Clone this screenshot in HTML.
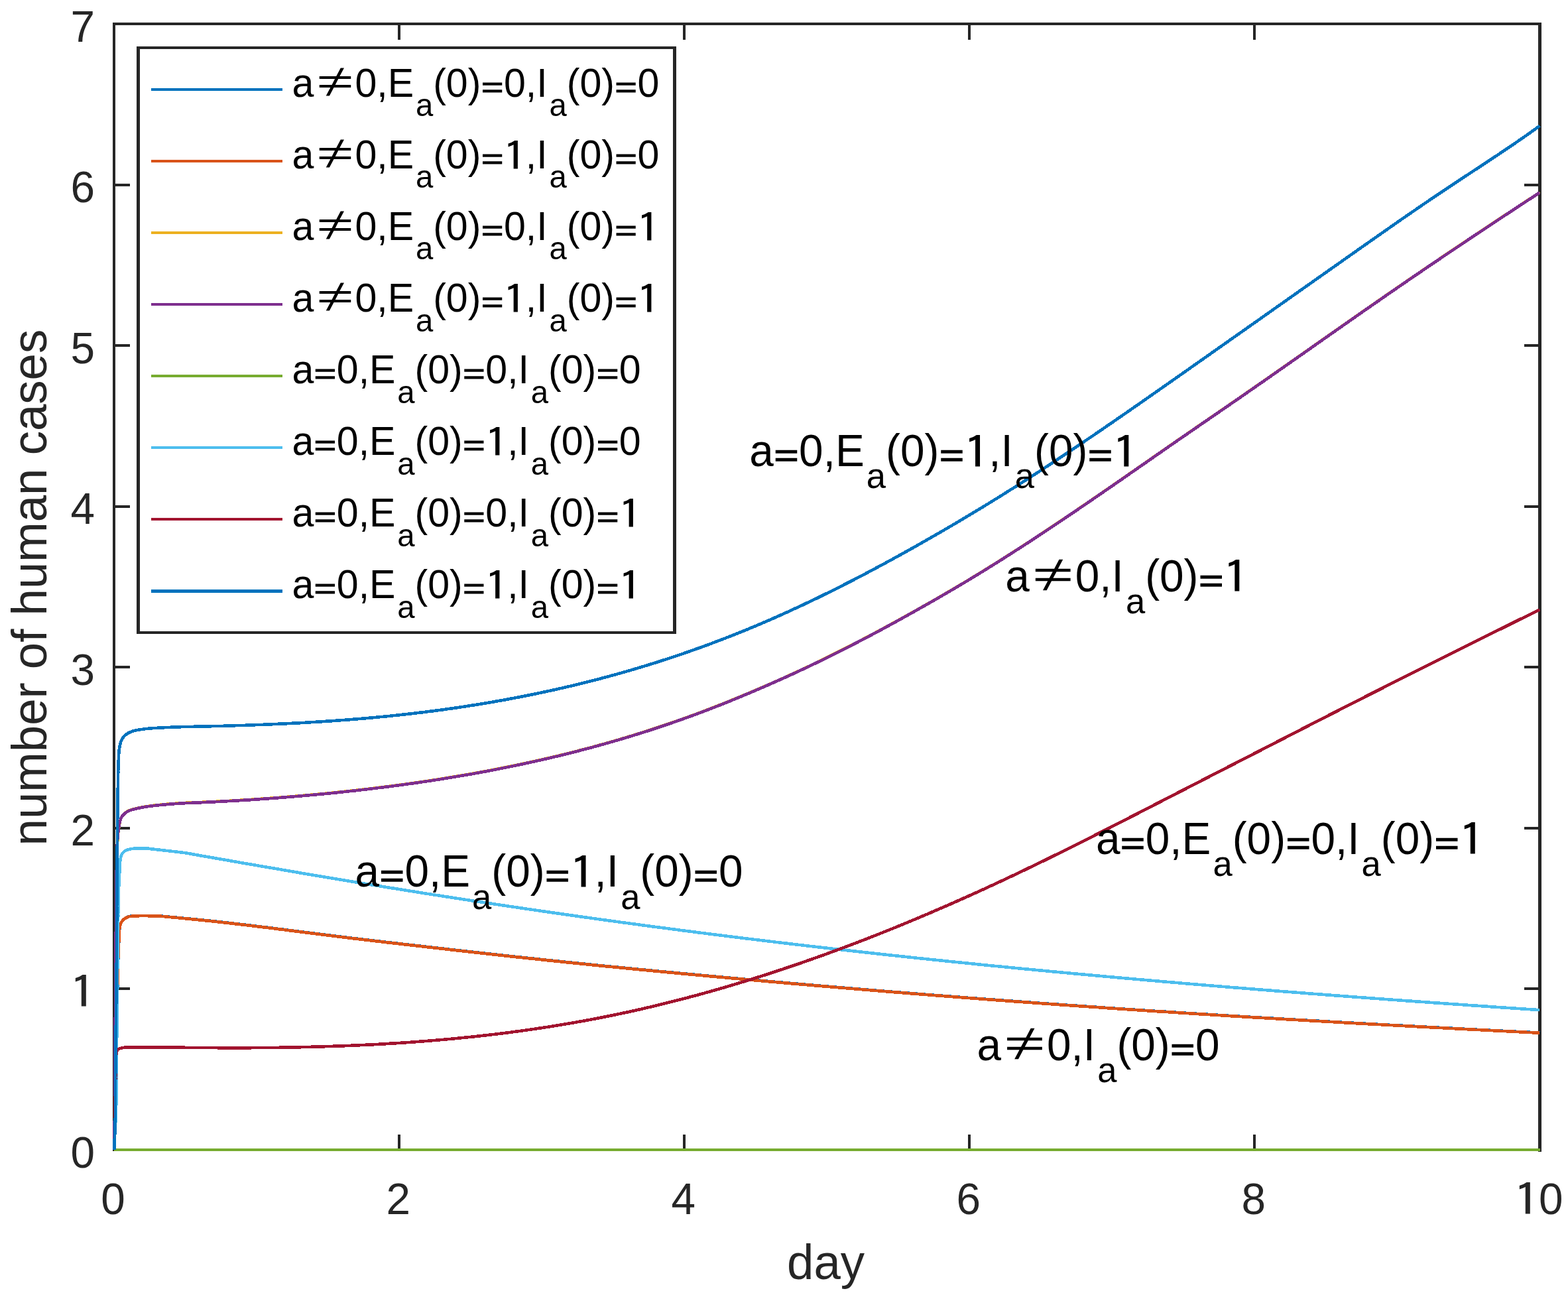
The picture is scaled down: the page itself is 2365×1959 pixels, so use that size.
<!DOCTYPE html>
<html lang="en"><head><meta charset="utf-8"><title>number of human cases vs day</title>
<style>html,body{margin:0;padding:0;background:#fff}svg{display:block}text{font-family:"Liberation Sans",Arial,Helvetica,sans-serif}.n,.d{font-family:"IPAGothic","Noto Sans CJK JP","Liberation Sans",sans-serif}</style></head><body>
<svg xmlns="http://www.w3.org/2000/svg" width="2365" height="1959" viewBox="0 0 2365 1959">
<rect width="2365" height="1959" fill="#fff"/>
<g fill="none" stroke="#262626" stroke-width="4" shape-rendering="crispEdges">
<path d="M172.2,1734.0H2322.5M172.2,36.0H2322.5" stroke-linecap="square"/>
<path d="M172.2,1734.0V36.0" stroke-linecap="square"/>
<path d="M2322.5,1734.0V36.0" stroke-width="5" stroke-linecap="square"/>
<path d="M602.26,1734.0v-23.5M602.26,36.0v23.5M1032.32,1734.0v-23.5M1032.32,36.0v23.5M1462.38,1734.0v-23.5M1462.38,36.0v23.5M1892.44,1734.0v-23.5M1892.44,36.0v23.5M172.2,1491.43h23.5M2322.5,1491.43h-23.5M172.2,1248.86h23.5M2322.5,1248.86h-23.5M172.2,1006.29h23.5M2322.5,1006.29h-23.5M172.2,763.71h23.5M2322.5,763.71h-23.5M172.2,521.14h23.5M2322.5,521.14h-23.5M172.2,278.57h23.5M2322.5,278.57h-23.5" stroke-width="4"/>
</g>
<text transform="translate(170.60,1830.60) scale(1,1.025)" font-size="65.7" fill="#262626"><tspan x="-18.27" y="0.00" font-size="65.70">0</tspan></text>
<text transform="translate(600.66,1830.60) scale(1,1.025)" font-size="65.7" fill="#262626"><tspan x="-18.27" y="0.00" font-size="65.70">2</tspan></text>
<text transform="translate(1030.72,1830.60) scale(1,1.025)" font-size="65.7" fill="#262626"><tspan x="-18.27" y="0.00" font-size="65.70">4</tspan></text>
<text transform="translate(1460.78,1830.60) scale(1,1.025)" font-size="65.7" fill="#262626"><tspan x="-18.27" y="0.00" font-size="65.70">6</tspan></text>
<text transform="translate(1890.84,1830.60) scale(1,1.025)" font-size="65.7" fill="#262626"><tspan x="-18.27" y="0.00" font-size="65.70">8</tspan></text>
<text transform="translate(2320.90,1830.60) scale(1,1.025)" font-size="65.7" fill="#262626"><tspan class="d" x="-39.12" y="3.34" font-size="65.56" textLength="42.69" lengthAdjust="spacingAndGlyphs">1</tspan><tspan x="0.00" y="0.00" font-size="65.70">0</tspan></text>
<text transform="translate(142.90,1760.60) scale(1,1.025)" font-size="65.7" fill="#262626"><tspan x="-36.54" y="0.00" font-size="65.70">0</tspan></text>
<text transform="translate(142.90,1518.03) scale(1,1.025)" font-size="65.7" fill="#262626"><tspan class="d" x="-39.12" y="3.34" font-size="65.56" textLength="42.69" lengthAdjust="spacingAndGlyphs">1</tspan></text>
<text transform="translate(142.90,1275.46) scale(1,1.025)" font-size="65.7" fill="#262626"><tspan x="-36.54" y="0.00" font-size="65.70">2</tspan></text>
<text transform="translate(142.90,1032.89) scale(1,1.025)" font-size="65.7" fill="#262626"><tspan x="-36.54" y="0.00" font-size="65.70">3</tspan></text>
<text transform="translate(142.90,790.31) scale(1,1.025)" font-size="65.7" fill="#262626"><tspan x="-36.54" y="0.00" font-size="65.70">4</tspan></text>
<text transform="translate(142.90,547.74) scale(1,1.025)" font-size="65.7" fill="#262626"><tspan x="-36.54" y="0.00" font-size="65.70">5</tspan></text>
<text transform="translate(142.90,305.17) scale(1,1.025)" font-size="65.7" fill="#262626"><tspan x="-36.54" y="0.00" font-size="65.70">6</tspan></text>
<text transform="translate(142.90,62.60) scale(1,1.025)" font-size="65.7" fill="#262626"><tspan x="-36.54" y="0.00" font-size="65.70">7</tspan></text>
<text transform="translate(1245.55,1929.40) scale(1,1.02)" font-size="72.6" fill="#262626"><tspan x="-58.53" y="0.00" font-size="72.60">day</tspan></text>
<text transform="translate(70.30,886.00) rotate(-90) scale(1,1.02)" font-size="72.6" fill="#262626"><tspan x="-389.43" y="0.00" font-size="72.60">number of human cases</tspan></text>
<g fill="none" stroke-width="4.6" stroke-linejoin="round" shape-rendering="crispEdges">
<path d="M172.5,1733.8L172.5,1732.3L172.6,1730.8L172.6,1729.3L172.6,1727.8L172.7,1726.3L172.7,1724.8L172.7,1723.3L172.8,1721.8L172.8,1720.3L172.8,1718.8L172.8,1717.3L172.9,1715.8L172.9,1714.3L172.9,1712.8L173.0,1711.3L173.0,1709.8L173.0,1708.3L173.1,1706.8L173.1,1705.3L173.1,1703.8L173.2,1702.3L173.2,1700.8L173.2,1699.3L173.2,1697.8L173.3,1696.3L173.3,1694.8L173.3,1693.3L173.4,1691.8L173.4,1690.3L173.4,1688.8L173.5,1687.3L173.5,1685.8L173.5,1684.3L173.5,1682.8L173.6,1681.3L173.6,1679.8L173.6,1678.3L173.7,1676.8L173.7,1675.3L173.7,1673.8L173.7,1672.3L173.8,1670.8L173.8,1669.3L173.8,1667.8L173.9,1666.3L173.9,1664.8L173.9,1663.3L173.9,1661.8L174.0,1660.3L174.0,1658.8L174.0,1657.3L174.1,1655.8L174.1,1654.3L174.1,1652.8L174.1,1651.3L174.2,1649.8L174.2,1648.3L174.2,1646.8L174.3,1645.3L174.3,1643.8L174.3,1642.3L174.3,1640.8L174.4,1639.3L174.4,1637.8L174.4,1636.3L174.5,1634.8L174.5,1633.3L174.5,1631.8L174.5,1630.3L174.6,1628.8L174.6,1627.3L174.6,1625.8L174.6,1624.3L174.7,1622.8L174.7,1621.3L174.7,1619.8L174.8,1618.3L174.8,1616.8L174.8,1615.3L174.8,1613.8L174.9,1612.3L174.9,1610.8L174.9,1609.3L175.0,1607.8L175.0,1606.3L175.0,1604.8L175.0,1603.3L175.1,1601.8L175.1,1600.3L175.1,1598.8L175.1,1597.3L175.2,1595.8L175.2,1594.3L175.2,1592.8L175.3,1591.3L175.3,1589.8L175.3,1588.3L175.3,1586.8L175.4,1585.3L175.4,1583.8L175.4,1582.3L175.5,1580.8L175.5,1579.3L175.5,1577.8L175.5,1576.3L175.6,1574.8L175.6,1573.3L175.6,1571.8L175.6,1570.3L175.7,1568.8L175.7,1567.3L175.7,1565.8L175.8,1564.3L175.8,1562.8L175.8,1561.3L175.8,1559.8L175.9,1558.3L175.9,1556.8L175.9,1555.3L175.9,1553.8L176.0,1552.3L176.0,1550.8L176.0,1549.3L176.1,1547.8L176.1,1546.3L176.1,1544.8L176.1,1543.3L176.2,1541.8L176.2,1540.3L176.2,1538.8L176.3,1537.3L176.3,1535.8L176.3,1534.3L176.3,1532.8L176.4,1531.3L176.4,1529.8L176.4,1528.3L176.5,1526.8L176.5,1525.3L176.5,1523.8L176.5,1522.3L176.6,1520.8L176.6,1519.3L176.6,1517.8L176.7,1516.3L176.7,1514.8L176.7,1513.3L176.8,1511.8L176.8,1510.3L176.8,1508.8L176.8,1507.3L176.9,1505.8L176.9,1504.3L176.9,1502.8L177.0,1501.3L177.0,1499.8L177.0,1498.3L177.0,1496.8L177.1,1495.3L177.1,1493.8L177.1,1492.3L177.2,1490.8L177.2,1489.3L177.2,1487.8L177.2,1486.3L177.3,1484.8L177.3,1483.3L177.3,1481.8L177.4,1480.3L177.4,1478.8L177.4,1477.3L177.5,1475.8L177.5,1474.3L177.5,1472.8L177.6,1471.3L177.6,1469.8L177.6,1468.3L177.7,1466.8L177.7,1465.3L177.7,1463.8L177.8,1462.3L177.8,1460.9L177.8,1459.4L177.9,1457.9L177.9,1456.4L178.0,1454.9L178.0,1453.4L178.0,1451.9L178.1,1450.4L178.1,1448.9L178.2,1447.4L178.2,1445.9L178.3,1444.4L178.3,1442.9L178.4,1441.4L178.4,1439.9L178.5,1438.4L178.5,1436.9L178.6,1435.4L178.7,1433.9L178.7,1432.4L178.8,1430.9L178.9,1429.4L178.9,1427.9L179.0,1426.4L179.1,1424.9L179.1,1423.4L179.2,1421.9L179.3,1420.4L179.3,1418.9L179.4,1417.4L179.5,1415.9L179.5,1414.4L179.6,1412.9L179.7,1411.4L179.7,1409.9L179.8,1408.4L179.9,1406.9L179.9,1405.4L180.0,1403.9L180.1,1402.4L180.3,1400.9L180.5,1399.4L180.7,1397.9L181.0,1396.4L181.3,1395.0L181.8,1393.6L182.4,1392.2L183.1,1390.8L183.9,1389.6L184.7,1388.4L185.8,1387.2L186.9,1386.1L188.1,1385.2L189.3,1384.5L190.6,1383.7L192.0,1383.1L193.4,1382.5L194.9,1382.0L196.4,1381.7L197.8,1381.6L199.3,1381.4L200.8,1381.3L202.2,1381.3L203.7,1381.2L205.2,1381.1L206.8,1381.1L208.3,1381.0L209.8,1381.0L211.3,1380.9L212.8,1380.9L214.3,1380.9L215.8,1380.9L217.3,1380.9L218.8,1380.9L220.3,1380.9L221.8,1380.9L223.3,1381.0L224.8,1381.0L226.3,1381.0L227.8,1381.0L229.3,1381.0L230.8,1381.1L232.3,1381.1L233.8,1381.1L235.3,1381.2L236.8,1381.2L238.3,1381.3L239.8,1381.3L241.3,1381.4L242.8,1381.5L244.3,1381.7L245.8,1381.8L247.3,1381.9L248.8,1382.1L250.3,1382.2L251.8,1382.4L253.3,1382.5L254.8,1382.7L256.3,1382.8L257.8,1383.0L259.2,1383.1L260.7,1383.2L262.2,1383.4L263.7,1383.5L265.2,1383.7L266.7,1383.8L268.2,1383.9L269.7,1384.1L271.2,1384.2L272.7,1384.4L274.2,1384.5L275.7,1384.7L277.2,1384.8L278.7,1385.0L279.6,1385.0L282.6,1385.3L285.6,1385.6L288.6,1385.9L291.6,1386.2L294.6,1386.5L297.6,1386.8L300.6,1387.1L303.6,1387.4L306.6,1387.7L309.6,1388.0L312.6,1388.3L315.6,1388.6L318.6,1388.9L321.6,1389.3L324.6,1389.6L327.6,1389.9L330.6,1390.2L333.6,1390.6L336.6,1390.9L339.6,1391.2L342.6,1391.6L345.6,1391.9L348.6,1392.3L351.6,1392.6L354.6,1393.0L357.6,1393.3L360.6,1393.7L363.6,1394.0L366.6,1394.4L369.6,1394.7L372.6,1395.1L375.6,1395.4L378.6,1395.8L381.6,1396.2L384.6,1396.5L387.6,1396.9L390.6,1397.3L393.6,1397.6L396.6,1398.0L399.6,1398.4L402.6,1398.7L405.6,1399.1L408.6,1399.5L411.6,1399.8L414.6,1400.2L417.6,1400.6L420.6,1401.0L423.6,1401.3L426.6,1401.7L429.6,1402.1L432.6,1402.5L435.6,1402.9L438.6,1403.2L441.6,1403.6L444.6,1404.0L447.6,1404.4L450.6,1404.8L453.6,1405.1L456.6,1405.5L459.6,1405.9L462.6,1406.3L465.6,1406.7L468.6,1407.0L471.6,1407.4L474.6,1407.8L477.6,1408.2L480.6,1408.6L483.6,1408.9L486.6,1409.3L489.6,1409.7L492.6,1410.1L495.6,1410.4L498.6,1410.8L501.6,1411.2L504.6,1411.6L507.6,1411.9L510.6,1412.3L513.6,1412.7L516.6,1413.0L519.6,1413.4L522.6,1413.8L525.6,1414.1L528.6,1414.5L531.6,1414.9L534.6,1415.2L537.6,1415.6L540.6,1415.9L543.6,1416.3L546.6,1416.7L549.6,1417.0L552.6,1417.4L555.6,1417.7L558.6,1418.1L561.6,1418.4L564.6,1418.8L567.6,1419.1L570.6,1419.5L573.6,1419.8L576.6,1420.2L579.6,1420.5L582.6,1420.9L585.6,1421.2L588.6,1421.5L591.6,1421.9L594.6,1422.2L597.6,1422.6L600.6,1422.9L603.6,1423.3L606.6,1423.6L609.6,1424.0L612.6,1424.3L615.6,1424.7L618.6,1425.0L621.6,1425.3L624.6,1425.7L627.6,1426.0L630.6,1426.4L633.6,1426.7L636.6,1427.1L639.6,1427.4L642.6,1427.8L645.6,1428.1L648.6,1428.4L651.6,1428.8L654.6,1429.1L657.6,1429.5L660.6,1429.8L663.6,1430.2L666.6,1430.5L669.6,1430.8L672.6,1431.2L675.6,1431.5L678.6,1431.9L681.6,1432.2L684.6,1432.5L687.6,1432.9L690.6,1433.2L693.6,1433.6L696.6,1433.9L699.6,1434.2L702.6,1434.6L705.6,1434.9L708.6,1435.2L711.6,1435.6L714.6,1435.9L717.6,1436.3L720.6,1436.6L723.6,1436.9L726.6,1437.3L729.6,1437.6L732.6,1437.9L735.6,1438.3L738.6,1438.6L741.6,1438.9L744.6,1439.3L747.6,1439.6L750.6,1439.9L753.6,1440.2L756.6,1440.6L759.6,1440.9L762.6,1441.2L765.6,1441.6L768.6,1441.9L771.6,1442.2L774.6,1442.5L777.6,1442.9L780.6,1443.2L783.6,1443.5L786.6,1443.8L789.6,1444.1L792.6,1444.5L795.6,1444.8L798.6,1445.1L801.6,1445.4L804.6,1445.7L807.6,1446.1L810.6,1446.4L813.6,1446.7L816.6,1447.0L819.6,1447.3L822.6,1447.6L825.6,1448.0L828.6,1448.3L831.6,1448.6L834.6,1448.9L837.6,1449.2L840.6,1449.5L843.6,1449.8L846.6,1450.2L849.6,1450.5L852.6,1450.8L855.6,1451.1L858.6,1451.4L861.6,1451.7L864.6,1452.0L867.6,1452.3L870.6,1452.6L873.6,1452.9L876.6,1453.2L879.6,1453.5L882.6,1453.8L885.6,1454.1L888.6,1454.4L891.6,1454.8L894.6,1455.1L897.6,1455.4L900.6,1455.7L903.6,1456.0L906.6,1456.3L909.6,1456.6L912.6,1456.9L915.6,1457.2L918.6,1457.5L921.6,1457.8L924.6,1458.0L927.6,1458.3L930.6,1458.6L933.6,1458.9L936.6,1459.2L939.6,1459.5L942.6,1459.8L945.6,1460.1L948.6,1460.4L951.6,1460.7L954.6,1461.0L957.6,1461.3L960.6,1461.6L963.6,1461.9L966.6,1462.2L969.6,1462.4L972.6,1462.7L975.6,1463.0L978.6,1463.3L981.6,1463.6L984.6,1463.9L987.6,1464.2L990.6,1464.5L993.6,1464.8L996.6,1465.0L999.6,1465.3L1002.6,1465.6L1005.6,1465.9L1008.6,1466.2L1011.6,1466.5L1014.6,1466.7L1017.6,1467.0L1020.6,1467.3L1023.6,1467.6L1026.6,1467.9L1029.6,1468.2L1032.6,1468.4L1035.6,1468.7L1038.6,1469.0L1041.6,1469.3L1044.6,1469.6L1047.6,1469.8L1050.6,1470.1L1053.6,1470.4L1056.6,1470.7L1059.6,1470.9L1062.6,1471.2L1065.6,1471.5L1068.6,1471.8L1071.6,1472.1L1074.6,1472.3L1077.6,1472.6L1080.6,1472.9L1083.6,1473.2L1086.6,1473.4L1089.6,1473.7L1092.6,1474.0L1095.6,1474.2L1098.6,1474.5L1101.6,1474.8L1104.6,1475.1L1107.6,1475.3L1110.6,1475.6L1113.6,1475.9L1116.6,1476.1L1119.6,1476.4L1122.6,1476.7L1125.6,1477.0L1128.6,1477.2L1131.6,1477.5L1134.6,1477.8L1137.6,1478.0L1140.6,1478.3L1143.6,1478.6L1146.6,1478.8L1149.6,1479.1L1152.6,1479.4L1155.6,1479.6L1158.6,1479.9L1161.6,1480.2L1164.6,1480.4L1167.6,1480.7L1170.6,1481.0L1173.6,1481.2L1176.6,1481.5L1179.6,1481.7L1182.6,1482.0L1185.6,1482.3L1188.6,1482.5L1191.6,1482.8L1194.6,1483.1L1197.6,1483.3L1200.6,1483.6L1203.6,1483.8L1206.6,1484.1L1209.6,1484.4L1212.6,1484.6L1215.6,1484.9L1218.6,1485.1L1221.6,1485.4L1224.6,1485.6L1227.6,1485.9L1230.6,1486.2L1233.6,1486.4L1236.6,1486.7L1239.6,1486.9L1242.6,1487.2L1245.6,1487.4L1248.6,1487.7L1251.6,1488.0L1254.6,1488.2L1257.6,1488.5L1260.6,1488.7L1263.6,1489.0L1266.6,1489.2L1269.6,1489.5L1272.6,1489.7L1275.6,1490.0L1278.6,1490.2L1281.6,1490.5L1284.6,1490.7L1287.6,1491.0L1290.6,1491.2L1293.6,1491.5L1296.6,1491.7L1299.6,1492.0L1302.6,1492.2L1305.6,1492.5L1308.6,1492.7L1311.6,1493.0L1314.6,1493.2L1317.6,1493.5L1320.6,1493.7L1323.6,1494.0L1326.6,1494.2L1329.6,1494.4L1332.6,1494.7L1335.6,1494.9L1338.6,1495.2L1341.6,1495.4L1344.6,1495.7L1347.6,1495.9L1350.6,1496.2L1353.6,1496.4L1356.6,1496.6L1359.6,1496.9L1362.6,1497.1L1365.6,1497.4L1368.6,1497.6L1371.6,1497.8L1374.6,1498.1L1377.6,1498.3L1380.6,1498.6L1383.6,1498.8L1386.6,1499.0L1389.6,1499.3L1392.6,1499.5L1395.6,1499.8L1398.6,1500.0L1401.6,1500.2L1404.6,1500.5L1407.6,1500.7L1410.6,1500.9L1413.6,1501.2L1416.6,1501.4L1419.6,1501.6L1422.6,1501.9L1425.6,1502.1L1428.6,1502.3L1431.6,1502.6L1434.6,1502.8L1437.6,1503.0L1440.6,1503.3L1443.6,1503.5L1446.6,1503.7L1449.6,1504.0L1452.6,1504.2L1455.6,1504.4L1458.6,1504.7L1461.6,1504.9L1464.6,1505.1L1467.6,1505.3L1470.6,1505.6L1473.6,1505.8L1476.6,1506.0L1479.6,1506.3L1482.6,1506.5L1485.6,1506.7L1488.6,1506.9L1491.6,1507.2L1494.6,1507.4L1497.6,1507.6L1500.6,1507.8L1503.6,1508.1L1506.6,1508.3L1509.6,1508.5L1512.6,1508.7L1515.6,1509.0L1518.6,1509.2L1521.6,1509.4L1524.6,1509.6L1527.6,1509.8L1530.6,1510.1L1533.6,1510.3L1536.6,1510.5L1539.6,1510.7L1542.6,1510.9L1545.6,1511.2L1548.6,1511.4L1551.6,1511.6L1554.6,1511.8L1557.6,1512.0L1560.6,1512.3L1563.6,1512.5L1566.6,1512.7L1569.6,1512.9L1572.6,1513.1L1575.6,1513.3L1578.6,1513.6L1581.6,1513.8L1584.6,1514.0L1587.6,1514.2L1590.6,1514.4L1593.6,1514.6L1596.6,1514.8L1599.6,1515.1L1602.6,1515.3L1605.6,1515.5L1608.6,1515.7L1611.6,1515.9L1614.6,1516.1L1617.6,1516.3L1620.6,1516.5L1623.6,1516.7L1626.6,1517.0L1629.6,1517.2L1632.6,1517.4L1635.6,1517.6L1638.6,1517.8L1641.6,1518.0L1644.6,1518.2L1647.6,1518.4L1650.6,1518.6L1653.6,1518.8L1656.6,1519.0L1659.6,1519.2L1662.6,1519.4L1665.6,1519.7L1668.6,1519.9L1671.6,1520.1L1674.6,1520.3L1677.6,1520.5L1680.6,1520.7L1683.6,1520.9L1686.6,1521.1L1689.6,1521.3L1692.6,1521.5L1695.6,1521.7L1698.6,1521.9L1701.6,1522.1L1704.6,1522.3L1707.6,1522.5L1710.6,1522.7L1713.6,1522.9L1716.6,1523.1L1719.6,1523.3L1722.6,1523.5L1725.6,1523.7L1728.6,1523.9L1731.6,1524.1L1734.6,1524.3L1737.6,1524.5L1740.6,1524.7L1743.6,1524.9L1746.6,1525.1L1749.6,1525.3L1752.6,1525.4L1755.6,1525.6L1758.6,1525.8L1761.6,1526.0L1764.6,1526.2L1767.6,1526.4L1770.6,1526.6L1773.6,1526.8L1776.6,1527.0L1779.6,1527.2L1782.6,1527.4L1785.6,1527.6L1788.6,1527.8L1791.6,1527.9L1794.6,1528.1L1797.6,1528.3L1800.6,1528.5L1803.6,1528.7L1806.6,1528.9L1809.6,1529.1L1812.6,1529.3L1815.6,1529.5L1818.6,1529.6L1821.6,1529.8L1824.6,1530.0L1827.6,1530.2L1830.6,1530.4L1833.6,1530.6L1836.6,1530.8L1839.6,1530.9L1842.6,1531.1L1845.6,1531.3L1848.6,1531.5L1851.6,1531.7L1854.6,1531.9L1857.6,1532.1L1860.6,1532.2L1863.6,1532.4L1866.6,1532.6L1869.6,1532.8L1872.6,1533.0L1875.6,1533.1L1878.6,1533.3L1881.6,1533.5L1884.6,1533.7L1887.6,1533.9L1890.6,1534.1L1893.6,1534.2L1896.6,1534.4L1899.6,1534.6L1902.6,1534.8L1905.6,1534.9L1908.6,1535.1L1911.6,1535.3L1914.6,1535.5L1917.6,1535.7L1920.6,1535.8L1923.6,1536.0L1926.6,1536.2L1929.6,1536.4L1932.6,1536.5L1935.6,1536.7L1938.6,1536.9L1941.6,1537.1L1944.6,1537.2L1947.6,1537.4L1950.6,1537.6L1953.6,1537.8L1956.6,1537.9L1959.6,1538.1L1962.6,1538.3L1965.6,1538.5L1968.6,1538.6L1971.6,1538.8L1974.6,1539.0L1977.6,1539.2L1980.6,1539.3L1983.6,1539.5L1986.6,1539.7L1989.6,1539.8L1992.6,1540.0L1995.6,1540.2L1998.6,1540.4L2001.6,1540.5L2004.6,1540.7L2007.6,1540.9L2010.6,1541.0L2013.6,1541.2L2016.6,1541.4L2019.6,1541.5L2022.6,1541.7L2025.6,1541.9L2028.6,1542.1L2031.6,1542.2L2034.6,1542.4L2037.6,1542.6L2040.6,1542.7L2043.6,1542.9L2046.6,1543.1L2049.6,1543.2L2052.6,1543.4L2055.6,1543.6L2058.6,1543.7L2061.6,1543.9L2064.6,1544.1L2067.6,1544.2L2070.6,1544.4L2073.6,1544.5L2076.6,1544.7L2079.6,1544.9L2082.6,1545.0L2085.6,1545.2L2088.6,1545.4L2091.6,1545.5L2094.6,1545.7L2097.6,1545.9L2100.6,1546.0L2103.6,1546.2L2106.6,1546.3L2109.6,1546.5L2112.6,1546.7L2115.6,1546.8L2118.6,1547.0L2121.6,1547.2L2124.6,1547.3L2127.6,1547.5L2130.6,1547.6L2133.6,1547.8L2136.6,1548.0L2139.6,1548.1L2142.6,1548.3L2145.6,1548.4L2148.6,1548.6L2151.6,1548.8L2154.6,1548.9L2157.6,1549.1L2160.6,1549.2L2163.6,1549.4L2166.6,1549.6L2169.6,1549.7L2172.6,1549.9L2175.6,1550.0L2178.6,1550.2L2181.6,1550.3L2184.6,1550.5L2187.6,1550.7L2190.6,1550.8L2193.6,1551.0L2196.6,1551.1L2199.6,1551.3L2202.6,1551.4L2205.6,1551.6L2208.6,1551.8L2211.6,1551.9L2214.6,1552.1L2217.6,1552.2L2220.6,1552.4L2223.6,1552.5L2226.6,1552.7L2229.6,1552.9L2232.6,1553.0L2235.6,1553.2L2238.6,1553.3L2241.6,1553.5L2244.6,1553.6L2247.6,1553.8L2250.6,1553.9L2253.6,1554.1L2256.6,1554.2L2259.6,1554.4L2262.6,1554.6L2265.6,1554.7L2268.6,1554.9L2271.6,1555.0L2274.6,1555.2L2277.6,1555.3L2280.6,1555.5L2283.6,1555.6L2286.6,1555.8L2289.6,1555.9L2292.6,1556.1L2295.6,1556.2L2298.6,1556.4L2301.6,1556.5L2304.6,1556.7L2307.6,1556.8L2310.6,1557.0L2313.6,1557.1L2316.6,1557.3L2319.6,1557.4L2322.4,1557.6" stroke="#0072BD"/>
<path d="M172.4,1734.0L172.4,1732.5L172.5,1731.0L172.5,1729.5L172.5,1728.0L172.6,1726.5L172.6,1725.0L172.6,1723.5L172.7,1722.0L172.7,1720.5L172.7,1719.0L172.7,1717.5L172.8,1716.0L172.8,1714.5L172.8,1713.0L172.9,1711.5L172.9,1710.0L172.9,1708.5L173.0,1707.0L173.0,1705.5L173.0,1704.0L173.1,1702.5L173.1,1701.0L173.1,1699.5L173.1,1698.0L173.2,1696.5L173.2,1695.0L173.2,1693.5L173.3,1692.0L173.3,1690.5L173.3,1689.0L173.4,1687.5L173.4,1686.0L173.4,1684.5L173.4,1683.0L173.5,1681.5L173.5,1680.0L173.5,1678.5L173.6,1677.0L173.6,1675.5L173.6,1674.0L173.6,1672.5L173.7,1671.0L173.7,1669.5L173.7,1668.0L173.8,1666.5L173.8,1665.0L173.8,1663.5L173.8,1662.0L173.9,1660.5L173.9,1659.0L173.9,1657.5L174.0,1656.0L174.0,1654.5L174.0,1653.0L174.0,1651.5L174.1,1650.0L174.1,1648.5L174.1,1647.0L174.2,1645.5L174.2,1644.0L174.2,1642.5L174.2,1641.0L174.3,1639.5L174.3,1638.0L174.3,1636.5L174.4,1635.0L174.4,1633.5L174.4,1632.0L174.4,1630.5L174.5,1629.0L174.5,1627.5L174.5,1626.0L174.5,1624.5L174.6,1623.0L174.6,1621.5L174.6,1620.0L174.7,1618.5L174.7,1617.0L174.7,1615.5L174.7,1614.0L174.8,1612.5L174.8,1611.0L174.8,1609.5L174.9,1608.0L174.9,1606.5L174.9,1605.0L174.9,1603.5L175.0,1602.0L175.0,1600.5L175.0,1599.0L175.0,1597.5L175.1,1596.0L175.1,1594.5L175.1,1593.0L175.2,1591.5L175.2,1590.0L175.2,1588.5L175.2,1587.0L175.3,1585.5L175.3,1584.0L175.3,1582.5L175.4,1581.0L175.4,1579.5L175.4,1578.0L175.4,1576.5L175.5,1575.0L175.5,1573.5L175.5,1572.0L175.5,1570.5L175.6,1569.0L175.6,1567.5L175.6,1566.0L175.7,1564.5L175.7,1563.0L175.7,1561.5L175.7,1560.0L175.8,1558.5L175.8,1557.0L175.8,1555.5L175.8,1554.0L175.9,1552.5L175.9,1551.0L175.9,1549.5L176.0,1548.0L176.0,1546.5L176.0,1545.0L176.0,1543.5L176.1,1542.0L176.1,1540.5L176.1,1539.0L176.2,1537.5L176.2,1536.0L176.2,1534.5L176.2,1533.0L176.3,1531.5L176.3,1530.0L176.3,1528.5L176.4,1527.0L176.4,1525.5L176.4,1524.0L176.4,1522.5L176.5,1521.0L176.5,1519.5L176.5,1518.0L176.6,1516.5L176.6,1515.0L176.6,1513.5L176.7,1512.0L176.7,1510.5L176.7,1509.0L176.7,1507.5L176.8,1506.0L176.8,1504.5L176.8,1503.0L176.9,1501.5L176.9,1500.0L176.9,1498.5L176.9,1497.0L177.0,1495.5L177.0,1494.0L177.0,1492.5L177.1,1491.0L177.1,1489.5L177.1,1488.0L177.1,1486.5L177.2,1485.0L177.2,1483.5L177.2,1482.0L177.3,1480.5L177.3,1479.0L177.3,1477.5L177.4,1476.0L177.4,1474.5L177.4,1473.0L177.5,1471.5L177.5,1470.0L177.5,1468.5L177.6,1467.0L177.6,1465.5L177.6,1464.0L177.7,1462.5L177.7,1461.1L177.7,1459.6L177.8,1458.1L177.8,1456.6L177.9,1455.1L177.9,1453.6L177.9,1452.1L178.0,1450.6L178.0,1449.1L178.1,1447.6L178.1,1446.1L178.2,1444.6L178.2,1443.1L178.3,1441.6L178.3,1440.1L178.4,1438.6L178.4,1437.1L178.5,1435.6L178.6,1434.1L178.6,1432.6L178.7,1431.1L178.8,1429.6L178.8,1428.1L178.9,1426.6L179.0,1425.1L179.0,1423.6L179.1,1422.1L179.2,1420.6L179.2,1419.1L179.3,1417.6L179.4,1416.1L179.4,1414.6L179.5,1413.1L179.6,1411.6L179.6,1410.1L179.7,1408.6L179.8,1407.1L179.8,1405.6L179.9,1404.1L180.0,1402.6L180.2,1401.1L180.4,1399.6L180.6,1398.1L180.9,1396.6L181.2,1395.2L181.7,1393.8L182.3,1392.4L183.0,1391.0L183.8,1389.8L184.6,1388.6L185.7,1387.4L186.8,1386.3L188.0,1385.4L189.2,1384.7L190.5,1383.9L191.9,1383.3L193.3,1382.7L194.8,1382.2L196.3,1381.9L197.7,1381.8L199.2,1381.6L200.7,1381.5L202.1,1381.5L203.6,1381.4L205.1,1381.3L206.7,1381.3L208.2,1381.2L209.7,1381.2L211.2,1381.1L212.7,1381.1L214.2,1381.1L215.7,1381.1L217.2,1381.1L218.7,1381.1L220.2,1381.1L221.7,1381.1L223.2,1381.2L224.7,1381.2L226.2,1381.2L227.7,1381.2L229.2,1381.2L230.7,1381.3L232.2,1381.3L233.7,1381.3L235.2,1381.4L236.7,1381.4L238.2,1381.5L239.7,1381.5L241.2,1381.6L242.7,1381.7L244.2,1381.9L245.7,1382.0L247.2,1382.1L248.7,1382.3L250.2,1382.4L251.7,1382.6L253.2,1382.7L254.7,1382.9L256.2,1383.0L257.7,1383.2L259.1,1383.3L260.6,1383.4L262.1,1383.6L263.6,1383.7L265.1,1383.9L266.6,1384.0L268.1,1384.1L269.6,1384.3L271.1,1384.4L272.6,1384.6L274.1,1384.7L275.6,1384.9L277.1,1385.0L278.6,1385.2L279.5,1385.2L282.5,1385.5L285.5,1385.8L288.5,1386.1L291.5,1386.4L294.5,1386.7L297.5,1387.0L300.5,1387.3L303.5,1387.6L306.5,1387.9L309.5,1388.2L312.5,1388.5L315.5,1388.8L318.5,1389.1L321.5,1389.5L324.5,1389.8L327.5,1390.1L330.5,1390.4L333.5,1390.8L336.5,1391.1L339.5,1391.4L342.5,1391.8L345.5,1392.1L348.5,1392.5L351.5,1392.8L354.5,1393.2L357.5,1393.5L360.5,1393.9L363.5,1394.2L366.5,1394.6L369.5,1394.9L372.5,1395.3L375.5,1395.6L378.5,1396.0L381.5,1396.4L384.5,1396.7L387.5,1397.1L390.5,1397.5L393.5,1397.8L396.5,1398.2L399.5,1398.6L402.5,1398.9L405.5,1399.3L408.5,1399.7L411.5,1400.0L414.5,1400.4L417.5,1400.8L420.5,1401.2L423.5,1401.5L426.5,1401.9L429.5,1402.3L432.5,1402.7L435.5,1403.1L438.5,1403.4L441.5,1403.8L444.5,1404.2L447.5,1404.6L450.5,1405.0L453.5,1405.3L456.5,1405.7L459.5,1406.1L462.5,1406.5L465.5,1406.9L468.5,1407.2L471.5,1407.6L474.5,1408.0L477.5,1408.4L480.5,1408.8L483.5,1409.1L486.5,1409.5L489.5,1409.9L492.5,1410.3L495.5,1410.6L498.5,1411.0L501.5,1411.4L504.5,1411.8L507.5,1412.1L510.5,1412.5L513.5,1412.9L516.5,1413.2L519.5,1413.6L522.5,1414.0L525.5,1414.3L528.5,1414.7L531.5,1415.1L534.5,1415.4L537.5,1415.8L540.5,1416.1L543.5,1416.5L546.5,1416.9L549.5,1417.2L552.5,1417.6L555.5,1417.9L558.5,1418.3L561.5,1418.6L564.5,1419.0L567.5,1419.3L570.5,1419.7L573.5,1420.0L576.5,1420.4L579.5,1420.7L582.5,1421.1L585.5,1421.4L588.5,1421.7L591.5,1422.1L594.5,1422.4L597.5,1422.8L600.5,1423.1L603.5,1423.5L606.5,1423.8L609.5,1424.2L612.5,1424.5L615.5,1424.9L618.5,1425.2L621.5,1425.5L624.5,1425.9L627.5,1426.2L630.5,1426.6L633.5,1426.9L636.5,1427.3L639.5,1427.6L642.5,1428.0L645.5,1428.3L648.5,1428.6L651.5,1429.0L654.5,1429.3L657.5,1429.7L660.5,1430.0L663.5,1430.4L666.5,1430.7L669.5,1431.0L672.5,1431.4L675.5,1431.7L678.5,1432.1L681.5,1432.4L684.5,1432.7L687.5,1433.1L690.5,1433.4L693.5,1433.8L696.5,1434.1L699.5,1434.4L702.5,1434.8L705.5,1435.1L708.5,1435.4L711.5,1435.8L714.5,1436.1L717.5,1436.5L720.5,1436.8L723.5,1437.1L726.5,1437.5L729.5,1437.8L732.5,1438.1L735.5,1438.5L738.5,1438.8L741.5,1439.1L744.5,1439.5L747.5,1439.8L750.5,1440.1L753.5,1440.4L756.5,1440.8L759.5,1441.1L762.5,1441.4L765.5,1441.8L768.5,1442.1L771.5,1442.4L774.5,1442.7L777.5,1443.1L780.5,1443.4L783.5,1443.7L786.5,1444.0L789.5,1444.3L792.5,1444.7L795.5,1445.0L798.5,1445.3L801.5,1445.6L804.5,1445.9L807.5,1446.3L810.5,1446.6L813.5,1446.9L816.5,1447.2L819.5,1447.5L822.5,1447.8L825.5,1448.2L828.5,1448.5L831.5,1448.8L834.5,1449.1L837.5,1449.4L840.5,1449.7L843.5,1450.0L846.5,1450.4L849.5,1450.7L852.5,1451.0L855.5,1451.3L858.5,1451.6L861.5,1451.9L864.5,1452.2L867.5,1452.5L870.5,1452.8L873.5,1453.1L876.5,1453.4L879.5,1453.7L882.5,1454.0L885.5,1454.3L888.5,1454.6L891.5,1455.0L894.5,1455.3L897.5,1455.6L900.5,1455.9L903.5,1456.2L906.5,1456.5L909.5,1456.8L912.5,1457.1L915.5,1457.4L918.5,1457.7L921.5,1458.0L924.5,1458.2L927.5,1458.5L930.5,1458.8L933.5,1459.1L936.5,1459.4L939.5,1459.7L942.5,1460.0L945.5,1460.3L948.5,1460.6L951.5,1460.9L954.5,1461.2L957.5,1461.5L960.5,1461.8L963.5,1462.1L966.5,1462.4L969.5,1462.6L972.5,1462.9L975.5,1463.2L978.5,1463.5L981.5,1463.8L984.5,1464.1L987.5,1464.4L990.5,1464.7L993.5,1465.0L996.5,1465.2L999.5,1465.5L1002.5,1465.8L1005.5,1466.1L1008.5,1466.4L1011.5,1466.7L1014.5,1466.9L1017.5,1467.2L1020.5,1467.5L1023.5,1467.8L1026.5,1468.1L1029.5,1468.4L1032.5,1468.6L1035.5,1468.9L1038.5,1469.2L1041.5,1469.5L1044.5,1469.8L1047.5,1470.0L1050.5,1470.3L1053.5,1470.6L1056.5,1470.9L1059.5,1471.1L1062.5,1471.4L1065.5,1471.7L1068.5,1472.0L1071.5,1472.3L1074.5,1472.5L1077.5,1472.8L1080.5,1473.1L1083.5,1473.4L1086.5,1473.6L1089.5,1473.9L1092.5,1474.2L1095.5,1474.4L1098.5,1474.7L1101.5,1475.0L1104.5,1475.3L1107.5,1475.5L1110.5,1475.8L1113.5,1476.1L1116.5,1476.3L1119.5,1476.6L1122.5,1476.9L1125.5,1477.2L1128.5,1477.4L1131.5,1477.7L1134.5,1478.0L1137.5,1478.2L1140.5,1478.5L1143.5,1478.8L1146.5,1479.0L1149.5,1479.3L1152.5,1479.6L1155.5,1479.8L1158.5,1480.1L1161.5,1480.4L1164.5,1480.6L1167.5,1480.9L1170.5,1481.2L1173.5,1481.4L1176.5,1481.7L1179.5,1481.9L1182.5,1482.2L1185.5,1482.5L1188.5,1482.7L1191.5,1483.0L1194.5,1483.3L1197.5,1483.5L1200.5,1483.8L1203.5,1484.0L1206.5,1484.3L1209.5,1484.6L1212.5,1484.8L1215.5,1485.1L1218.5,1485.3L1221.5,1485.6L1224.5,1485.8L1227.5,1486.1L1230.5,1486.4L1233.5,1486.6L1236.5,1486.9L1239.5,1487.1L1242.5,1487.4L1245.5,1487.6L1248.5,1487.9L1251.5,1488.2L1254.5,1488.4L1257.5,1488.7L1260.5,1488.9L1263.5,1489.2L1266.5,1489.4L1269.5,1489.7L1272.5,1489.9L1275.5,1490.2L1278.5,1490.4L1281.5,1490.7L1284.5,1490.9L1287.5,1491.2L1290.5,1491.4L1293.5,1491.7L1296.5,1491.9L1299.5,1492.2L1302.5,1492.4L1305.5,1492.7L1308.5,1492.9L1311.5,1493.2L1314.5,1493.4L1317.5,1493.7L1320.5,1493.9L1323.5,1494.2L1326.5,1494.4L1329.5,1494.6L1332.5,1494.9L1335.5,1495.1L1338.5,1495.4L1341.5,1495.6L1344.5,1495.9L1347.5,1496.1L1350.5,1496.4L1353.5,1496.6L1356.5,1496.8L1359.5,1497.1L1362.5,1497.3L1365.5,1497.6L1368.5,1497.8L1371.5,1498.0L1374.5,1498.3L1377.5,1498.5L1380.5,1498.8L1383.5,1499.0L1386.5,1499.2L1389.5,1499.5L1392.5,1499.7L1395.5,1500.0L1398.5,1500.2L1401.5,1500.4L1404.5,1500.7L1407.5,1500.9L1410.5,1501.1L1413.5,1501.4L1416.5,1501.6L1419.5,1501.8L1422.5,1502.1L1425.5,1502.3L1428.5,1502.5L1431.5,1502.8L1434.5,1503.0L1437.5,1503.2L1440.5,1503.5L1443.5,1503.7L1446.5,1503.9L1449.5,1504.2L1452.5,1504.4L1455.5,1504.6L1458.5,1504.9L1461.5,1505.1L1464.5,1505.3L1467.5,1505.5L1470.5,1505.8L1473.5,1506.0L1476.5,1506.2L1479.5,1506.5L1482.5,1506.7L1485.5,1506.9L1488.5,1507.1L1491.5,1507.4L1494.5,1507.6L1497.5,1507.8L1500.5,1508.0L1503.5,1508.3L1506.5,1508.5L1509.5,1508.7L1512.5,1508.9L1515.5,1509.2L1518.5,1509.4L1521.5,1509.6L1524.5,1509.8L1527.5,1510.0L1530.5,1510.3L1533.5,1510.5L1536.5,1510.7L1539.5,1510.9L1542.5,1511.1L1545.5,1511.4L1548.5,1511.6L1551.5,1511.8L1554.5,1512.0L1557.5,1512.2L1560.5,1512.5L1563.5,1512.7L1566.5,1512.9L1569.5,1513.1L1572.5,1513.3L1575.5,1513.5L1578.5,1513.8L1581.5,1514.0L1584.5,1514.2L1587.5,1514.4L1590.5,1514.6L1593.5,1514.8L1596.5,1515.0L1599.5,1515.3L1602.5,1515.5L1605.5,1515.7L1608.5,1515.9L1611.5,1516.1L1614.5,1516.3L1617.5,1516.5L1620.5,1516.7L1623.5,1516.9L1626.5,1517.2L1629.5,1517.4L1632.5,1517.6L1635.5,1517.8L1638.5,1518.0L1641.5,1518.2L1644.5,1518.4L1647.5,1518.6L1650.5,1518.8L1653.5,1519.0L1656.5,1519.2L1659.5,1519.4L1662.5,1519.6L1665.5,1519.9L1668.5,1520.1L1671.5,1520.3L1674.5,1520.5L1677.5,1520.7L1680.5,1520.9L1683.5,1521.1L1686.5,1521.3L1689.5,1521.5L1692.5,1521.7L1695.5,1521.9L1698.5,1522.1L1701.5,1522.3L1704.5,1522.5L1707.5,1522.7L1710.5,1522.9L1713.5,1523.1L1716.5,1523.3L1719.5,1523.5L1722.5,1523.7L1725.5,1523.9L1728.5,1524.1L1731.5,1524.3L1734.5,1524.5L1737.5,1524.7L1740.5,1524.9L1743.5,1525.1L1746.5,1525.3L1749.5,1525.5L1752.5,1525.6L1755.5,1525.8L1758.5,1526.0L1761.5,1526.2L1764.5,1526.4L1767.5,1526.6L1770.5,1526.8L1773.5,1527.0L1776.5,1527.2L1779.5,1527.4L1782.5,1527.6L1785.5,1527.8L1788.5,1528.0L1791.5,1528.1L1794.5,1528.3L1797.5,1528.5L1800.5,1528.7L1803.5,1528.9L1806.5,1529.1L1809.5,1529.3L1812.5,1529.5L1815.5,1529.7L1818.5,1529.8L1821.5,1530.0L1824.5,1530.2L1827.5,1530.4L1830.5,1530.6L1833.5,1530.8L1836.5,1531.0L1839.5,1531.1L1842.5,1531.3L1845.5,1531.5L1848.5,1531.7L1851.5,1531.9L1854.5,1532.1L1857.5,1532.3L1860.5,1532.4L1863.5,1532.6L1866.5,1532.8L1869.5,1533.0L1872.5,1533.2L1875.5,1533.3L1878.5,1533.5L1881.5,1533.7L1884.5,1533.9L1887.5,1534.1L1890.5,1534.3L1893.5,1534.4L1896.5,1534.6L1899.5,1534.8L1902.5,1535.0L1905.5,1535.1L1908.5,1535.3L1911.5,1535.5L1914.5,1535.7L1917.5,1535.9L1920.5,1536.0L1923.5,1536.2L1926.5,1536.4L1929.5,1536.6L1932.5,1536.7L1935.5,1536.9L1938.5,1537.1L1941.5,1537.3L1944.5,1537.4L1947.5,1537.6L1950.5,1537.8L1953.5,1538.0L1956.5,1538.1L1959.5,1538.3L1962.5,1538.5L1965.5,1538.7L1968.5,1538.8L1971.5,1539.0L1974.5,1539.2L1977.5,1539.4L1980.5,1539.5L1983.5,1539.7L1986.5,1539.9L1989.5,1540.0L1992.5,1540.2L1995.5,1540.4L1998.5,1540.6L2001.5,1540.7L2004.5,1540.9L2007.5,1541.1L2010.5,1541.2L2013.5,1541.4L2016.5,1541.6L2019.5,1541.7L2022.5,1541.9L2025.5,1542.1L2028.5,1542.3L2031.5,1542.4L2034.5,1542.6L2037.5,1542.8L2040.5,1542.9L2043.5,1543.1L2046.5,1543.3L2049.5,1543.4L2052.5,1543.6L2055.5,1543.8L2058.5,1543.9L2061.5,1544.1L2064.5,1544.3L2067.5,1544.4L2070.5,1544.6L2073.5,1544.7L2076.5,1544.9L2079.5,1545.1L2082.5,1545.2L2085.5,1545.4L2088.5,1545.6L2091.5,1545.7L2094.5,1545.9L2097.5,1546.1L2100.5,1546.2L2103.5,1546.4L2106.5,1546.5L2109.5,1546.7L2112.5,1546.9L2115.5,1547.0L2118.5,1547.2L2121.5,1547.4L2124.5,1547.5L2127.5,1547.7L2130.5,1547.8L2133.5,1548.0L2136.5,1548.2L2139.5,1548.3L2142.5,1548.5L2145.5,1548.6L2148.5,1548.8L2151.5,1549.0L2154.5,1549.1L2157.5,1549.3L2160.5,1549.4L2163.5,1549.6L2166.5,1549.8L2169.5,1549.9L2172.5,1550.1L2175.5,1550.2L2178.5,1550.4L2181.5,1550.5L2184.5,1550.7L2187.5,1550.9L2190.5,1551.0L2193.5,1551.2L2196.5,1551.3L2199.5,1551.5L2202.5,1551.6L2205.5,1551.8L2208.5,1552.0L2211.5,1552.1L2214.5,1552.3L2217.5,1552.4L2220.5,1552.6L2223.5,1552.7L2226.5,1552.9L2229.5,1553.1L2232.5,1553.2L2235.5,1553.4L2238.5,1553.5L2241.5,1553.7L2244.5,1553.8L2247.5,1554.0L2250.5,1554.1L2253.5,1554.3L2256.5,1554.4L2259.5,1554.6L2262.5,1554.8L2265.5,1554.9L2268.5,1555.1L2271.5,1555.2L2274.5,1555.4L2277.5,1555.5L2280.5,1555.7L2283.5,1555.8L2286.5,1556.0L2289.5,1556.1L2292.5,1556.3L2295.5,1556.4L2298.5,1556.6L2301.5,1556.7L2304.5,1556.9L2307.5,1557.0L2310.5,1557.2L2313.5,1557.3L2316.5,1557.5L2319.5,1557.6L2322.3,1557.8" stroke="#D95319"/>
<path d="M172.3,1733.7L172.4,1732.2L172.4,1730.7L172.4,1729.2L172.4,1727.7L172.5,1726.2L172.5,1724.7L172.5,1723.2L172.5,1721.7L172.6,1720.2L172.6,1718.7L172.6,1717.2L172.6,1715.7L172.6,1714.2L172.6,1712.7L172.7,1711.2L172.7,1709.7L172.7,1708.2L172.7,1706.7L172.7,1705.2L172.8,1703.7L172.8,1702.2L172.8,1700.7L172.8,1699.2L172.8,1697.7L172.8,1696.2L172.9,1694.7L172.9,1693.2L172.9,1691.7L172.9,1690.2L172.9,1688.7L172.9,1687.2L172.9,1685.7L173.0,1684.2L173.0,1682.7L173.0,1681.2L173.0,1679.7L173.0,1678.2L173.0,1676.7L173.0,1675.2L173.1,1673.7L173.1,1672.2L173.1,1670.7L173.1,1669.2L173.1,1667.7L173.1,1666.2L173.1,1664.7L173.2,1663.2L173.2,1661.7L173.2,1660.2L173.2,1658.7L173.2,1657.2L173.2,1655.7L173.2,1654.2L173.2,1652.7L173.2,1651.2L173.2,1649.7L173.3,1648.2L173.3,1646.7L173.3,1645.2L173.3,1643.7L173.3,1642.2L173.3,1640.7L173.3,1639.2L173.3,1637.7L173.3,1636.2L173.3,1634.7L173.3,1633.2L173.4,1631.7L173.4,1630.2L173.4,1628.7L173.4,1627.2L173.4,1625.7L173.4,1624.2L173.4,1622.7L173.4,1621.2L173.4,1619.7L173.4,1618.2L173.4,1616.7L173.4,1615.2L173.4,1613.7L173.4,1612.2L173.5,1610.7L173.5,1609.2L173.5,1607.7L173.5,1606.2L173.5,1604.7L173.5,1603.2L173.5,1601.7L173.5,1600.2L173.5,1598.7L173.5,1597.2L173.5,1595.7L173.5,1594.2L173.5,1592.7L173.5,1591.2L173.5,1589.7L173.6,1588.2L173.6,1586.7L173.6,1585.2L173.6,1583.7L173.6,1582.2L173.6,1580.7L173.6,1579.2L173.6,1577.7L173.6,1576.2L173.6,1574.7L173.6,1573.2L173.6,1571.7L173.6,1570.2L173.7,1568.7L173.7,1567.2L173.7,1565.7L173.7,1564.2L173.7,1562.7L173.7,1561.2L173.7,1559.7L173.7,1558.2L173.7,1556.7L173.7,1555.2L173.8,1553.7L173.8,1552.2L173.8,1550.7L173.8,1549.2L173.8,1547.7L173.8,1546.2L173.8,1544.7L173.8,1543.2L173.8,1541.7L173.9,1540.2L173.9,1538.7L173.9,1537.2L173.9,1535.7L173.9,1534.2L173.9,1532.7L173.9,1531.2L173.9,1529.7L174.0,1528.2L174.0,1526.7L174.0,1525.2L174.0,1523.7L174.0,1522.2L174.0,1520.7L174.0,1519.2L174.0,1517.7L174.1,1516.2L174.1,1514.7L174.1,1513.2L174.1,1511.7L174.1,1510.2L174.1,1508.7L174.1,1507.2L174.1,1505.7L174.2,1504.2L174.2,1502.7L174.2,1501.2L174.2,1499.7L174.2,1498.2L174.2,1496.7L174.2,1495.2L174.2,1493.7L174.3,1492.2L174.3,1490.7L174.3,1489.2L174.3,1487.7L174.3,1486.2L174.3,1484.7L174.3,1483.2L174.3,1481.7L174.3,1480.2L174.4,1478.7L174.4,1477.2L174.4,1475.7L174.4,1474.2L174.4,1472.7L174.4,1471.2L174.4,1469.7L174.4,1468.2L174.4,1466.7L174.5,1465.2L174.5,1463.7L174.5,1462.2L174.5,1460.7L174.5,1459.2L174.5,1457.7L174.5,1456.2L174.5,1454.7L174.5,1453.2L174.6,1451.7L174.6,1450.2L174.6,1448.7L174.6,1447.2L174.6,1445.7L174.6,1444.2L174.6,1442.7L174.6,1441.2L174.6,1439.7L174.7,1438.2L174.7,1436.7L174.7,1435.2L174.7,1433.7L174.7,1432.2L174.7,1430.7L174.7,1429.2L174.7,1427.7L174.7,1426.2L174.7,1424.7L174.8,1423.2L174.8,1421.7L174.8,1420.2L174.8,1418.7L174.8,1417.2L174.8,1415.7L174.8,1414.2L174.8,1412.7L174.9,1411.2L174.9,1409.7L174.9,1408.2L174.9,1406.7L174.9,1405.2L174.9,1403.7L174.9,1402.2L174.9,1400.7L175.0,1399.2L175.0,1397.7L175.0,1396.2L175.0,1394.7L175.0,1393.2L175.0,1391.7L175.0,1390.2L175.0,1388.7L175.1,1387.2L175.1,1385.7L175.1,1384.2L175.1,1382.7L175.1,1381.2L175.1,1379.7L175.1,1378.2L175.2,1376.7L175.2,1375.2L175.2,1373.7L175.2,1372.2L175.2,1370.7L175.2,1369.2L175.2,1367.7L175.3,1366.2L175.3,1364.7L175.3,1363.2L175.3,1361.7L175.3,1360.2L175.3,1358.7L175.3,1357.2L175.4,1355.7L175.4,1354.2L175.4,1352.7L175.4,1351.2L175.4,1349.7L175.4,1348.2L175.5,1346.7L175.5,1345.2L175.5,1343.7L175.5,1342.2L175.5,1340.7L175.6,1339.2L175.6,1337.7L175.6,1336.2L175.6,1334.7L175.6,1333.2L175.6,1331.7L175.7,1330.2L175.7,1328.7L175.7,1327.2L175.7,1325.7L175.7,1324.2L175.8,1322.7L175.8,1321.2L175.8,1319.7L175.8,1318.2L175.8,1316.7L175.9,1315.2L175.9,1313.7L175.9,1312.2L175.9,1310.7L176.0,1309.2L176.0,1307.7L176.0,1306.2L176.0,1304.7L176.1,1303.2L176.1,1301.7L176.1,1300.2L176.1,1298.7L176.2,1297.2L176.2,1295.7L176.2,1294.2L176.3,1292.7L176.3,1291.2L176.3,1289.7L176.4,1288.2L176.4,1286.7L176.5,1285.2L176.5,1283.7L176.6,1282.2L176.6,1280.7L176.7,1279.2L176.8,1277.7L176.8,1276.2L176.9,1274.7L177.0,1273.2L177.0,1271.7L177.1,1270.2L177.2,1268.7L177.3,1267.2L177.4,1265.7L177.5,1264.2L177.6,1262.7L177.7,1261.3L177.8,1259.8L177.9,1258.3L178.1,1256.8L178.3,1255.3L178.5,1253.8L178.7,1252.3L178.9,1250.8L179.1,1249.3L179.3,1247.9L179.6,1246.4L179.8,1244.9L180.1,1243.4L180.4,1241.9L180.7,1240.5L181.0,1239.0L181.4,1237.5L181.8,1236.1L182.3,1234.6L182.9,1233.3L183.5,1232.0L184.3,1230.7L185.3,1229.5L186.3,1228.4L187.4,1227.3L188.5,1226.3L189.7,1225.4L190.9,1224.5L192.2,1223.7L193.5,1223.0L194.9,1222.4L196.3,1221.9L197.7,1221.4L199.1,1220.9L200.6,1220.5L202.0,1220.1L203.5,1219.7L205.0,1219.4L206.4,1219.0L207.9,1218.7L209.3,1218.4L210.8,1218.1L212.3,1217.8L213.8,1217.5L215.2,1217.2L216.7,1217.0L218.2,1216.7L219.7,1216.4L221.2,1216.2L222.6,1216.0L224.1,1215.8L225.6,1215.6L227.1,1215.4L228.6,1215.2L230.1,1215.0L231.6,1214.8L233.0,1214.7L234.5,1214.5L236.0,1214.3L237.5,1214.2L239.0,1214.0L240.5,1213.9L242.0,1213.7L243.5,1213.6L245.0,1213.4L246.5,1213.3L248.0,1213.1L249.5,1213.0L251.0,1212.9L252.4,1212.7L253.9,1212.6L255.4,1212.5L256.9,1212.4L258.4,1212.3L259.9,1212.1L261.4,1212.0L262.9,1211.9L264.4,1211.8L265.9,1211.7L267.4,1211.6L268.9,1211.5L270.4,1211.4L271.9,1211.3L273.4,1211.2L274.9,1211.1L276.4,1211.0L277.9,1211.0L279.4,1210.9L280.1,1210.8L283.1,1210.7L286.1,1210.6L289.1,1210.5L292.1,1210.4L295.1,1210.2L298.1,1210.1L301.1,1210.0L304.1,1209.9L307.1,1209.7L310.1,1209.6L313.1,1209.4L316.1,1209.3L319.1,1209.2L322.1,1209.0L325.1,1208.9L328.1,1208.7L331.1,1208.6L334.1,1208.4L337.1,1208.2L340.1,1208.1L343.1,1207.9L346.1,1207.8L349.1,1207.6L352.1,1207.4L355.1,1207.2L358.1,1207.1L361.1,1206.9L364.1,1206.7L367.1,1206.5L370.1,1206.3L373.1,1206.1L376.1,1206.0L379.1,1205.8L382.1,1205.6L385.1,1205.4L388.1,1205.2L391.1,1205.0L394.1,1204.7L397.1,1204.5L400.1,1204.3L403.1,1204.1L406.1,1203.9L409.1,1203.7L412.1,1203.5L415.1,1203.2L418.1,1203.0L421.1,1202.8L424.1,1202.5L427.1,1202.3L430.1,1202.1L433.1,1201.8L436.1,1201.6L439.1,1201.3L442.1,1201.1L445.1,1200.8L448.1,1200.6L451.1,1200.3L454.1,1200.1L457.1,1199.8L460.1,1199.5L463.1,1199.3L466.1,1199.0L469.1,1198.7L472.1,1198.5L475.1,1198.2L478.1,1197.9L481.1,1197.6L484.1,1197.3L487.1,1197.0L490.1,1196.8L493.1,1196.5L496.1,1196.2L499.1,1195.9L502.1,1195.6L505.1,1195.3L508.1,1195.0L511.1,1194.6L514.1,1194.3L517.1,1194.0L520.1,1193.7L523.1,1193.4L526.1,1193.0L529.1,1192.7L532.1,1192.4L535.1,1192.1L538.1,1191.7L541.1,1191.4L544.1,1191.0L547.1,1190.7L550.1,1190.4L553.1,1190.0L556.1,1189.7L559.1,1189.3L562.1,1188.9L565.1,1188.6L568.1,1188.2L571.1,1187.8L574.1,1187.5L577.1,1187.1L580.1,1186.7L583.1,1186.3L586.1,1186.0L589.1,1185.6L592.1,1185.2L595.1,1184.8L598.1,1184.4L601.1,1184.0L604.1,1183.6L607.1,1183.2L610.1,1182.8L613.1,1182.4L616.1,1181.9L619.1,1181.5L622.1,1181.1L625.1,1180.7L628.1,1180.3L631.1,1179.8L634.1,1179.4L637.1,1178.9L640.1,1178.5L643.1,1178.1L646.1,1177.6L649.1,1177.2L652.1,1176.7L655.1,1176.2L658.1,1175.8L661.1,1175.3L664.1,1174.8L667.1,1174.4L670.1,1173.9L673.1,1173.4L676.1,1172.9L679.1,1172.4L682.1,1171.9L685.1,1171.4L688.1,1170.9L691.1,1170.4L694.1,1169.9L697.1,1169.4L700.1,1168.9L703.1,1168.4L706.1,1167.8L709.1,1167.3L712.1,1166.8L715.1,1166.3L718.1,1165.7L721.1,1165.2L724.1,1164.6L727.1,1164.1L730.1,1163.5L733.1,1163.0L736.1,1162.4L739.1,1161.8L742.1,1161.3L745.1,1160.7L748.1,1160.1L751.1,1159.5L754.1,1158.9L757.1,1158.3L760.1,1157.7L763.1,1157.1L766.1,1156.5L769.1,1155.9L772.1,1155.3L775.1,1154.7L778.1,1154.1L781.1,1153.4L784.1,1152.8L787.1,1152.2L790.1,1151.5L793.1,1150.9L796.1,1150.2L799.1,1149.6L802.1,1148.9L805.1,1148.3L808.1,1147.6L811.1,1146.9L814.1,1146.3L817.1,1145.6L820.1,1144.9L823.1,1144.2L826.1,1143.5L829.1,1142.8L832.1,1142.1L835.1,1141.4L838.1,1140.7L841.1,1140.0L844.1,1139.2L847.1,1138.5L850.1,1137.8L853.1,1137.0L856.1,1136.3L859.1,1135.5L862.1,1134.8L865.1,1134.0L868.1,1133.3L871.1,1132.5L874.1,1131.7L877.1,1130.9L880.1,1130.2L883.1,1129.4L886.1,1128.6L889.1,1127.8L892.1,1127.0L895.1,1126.2L898.1,1125.4L901.1,1124.5L904.1,1123.7L907.1,1122.9L910.1,1122.0L913.1,1121.2L916.1,1120.4L919.1,1119.5L922.1,1118.6L925.1,1117.8L928.1,1116.9L931.1,1116.0L934.1,1115.2L937.1,1114.3L940.1,1113.4L943.1,1112.5L946.1,1111.6L949.1,1110.7L952.1,1109.8L955.1,1108.9L958.1,1107.9L961.1,1107.0L964.1,1106.1L967.1,1105.1L970.1,1104.2L973.1,1103.2L976.1,1102.3L979.1,1101.3L982.1,1100.3L985.1,1099.4L988.1,1098.4L991.1,1097.4L994.1,1096.4L997.1,1095.4L1000.1,1094.4L1003.1,1093.4L1006.1,1092.4L1009.1,1091.3L1012.1,1090.3L1015.1,1089.3L1018.1,1088.2L1021.1,1087.2L1024.2,1086.1L1027.2,1085.1L1030.2,1084.0L1033.2,1082.9L1036.2,1081.9L1039.2,1080.8L1042.2,1079.7L1045.2,1078.6L1048.2,1077.5L1051.2,1076.4L1054.2,1075.3L1057.2,1074.1L1060.2,1073.0L1063.2,1071.9L1066.2,1070.7L1069.2,1069.6L1072.2,1068.4L1075.2,1067.3L1078.2,1066.1L1081.2,1064.9L1084.2,1063.7L1087.2,1062.6L1090.2,1061.4L1093.2,1060.2L1096.2,1059.0L1099.2,1057.8L1102.2,1056.5L1105.2,1055.3L1108.2,1054.1L1111.2,1052.9L1114.2,1051.6L1117.2,1050.4L1120.2,1049.1L1123.2,1047.9L1126.2,1046.6L1129.2,1045.4L1132.2,1044.1L1135.2,1042.8L1138.2,1041.5L1141.2,1040.3L1144.2,1039.0L1147.2,1037.7L1150.2,1036.4L1153.2,1035.1L1156.2,1033.8L1159.2,1032.5L1162.2,1031.2L1165.2,1029.9L1168.2,1028.5L1171.2,1027.2L1174.2,1025.9L1177.2,1024.5L1180.2,1023.2L1183.2,1021.8L1186.2,1020.5L1189.2,1019.1L1192.2,1017.7L1195.2,1016.4L1198.2,1015.0L1201.2,1013.6L1204.2,1012.2L1207.2,1010.8L1210.2,1009.4L1213.2,1008.0L1216.2,1006.6L1219.2,1005.2L1222.2,1003.8L1225.2,1002.3L1228.2,1000.9L1231.2,999.5L1234.2,998.0L1237.2,996.6L1240.2,995.1L1243.2,993.6L1246.2,992.2L1249.2,990.7L1252.2,989.2L1255.2,987.7L1258.2,986.2L1261.2,984.7L1264.2,983.2L1267.2,981.7L1270.2,980.2L1273.2,978.7L1276.2,977.2L1279.2,975.6L1282.2,974.1L1285.2,972.6L1288.2,971.0L1291.2,969.5L1294.2,967.9L1297.2,966.3L1300.2,964.8L1303.2,963.2L1306.2,961.6L1309.2,960.1L1312.2,958.5L1315.2,956.9L1318.2,955.3L1321.2,953.7L1324.2,952.1L1327.2,950.5L1330.2,948.9L1333.2,947.2L1336.2,945.6L1339.2,944.0L1342.2,942.4L1345.2,940.7L1348.2,939.1L1351.2,937.5L1354.2,935.8L1357.2,934.2L1360.2,932.5L1363.2,930.8L1366.2,929.2L1369.2,927.5L1372.2,925.8L1375.2,924.2L1378.2,922.5L1381.2,920.8L1384.2,919.1L1387.2,917.4L1390.2,915.7L1393.2,914.0L1396.2,912.3L1399.2,910.6L1402.2,908.9L1405.2,907.2L1408.2,905.5L1411.2,903.8L1414.2,902.0L1417.2,900.3L1420.2,898.6L1423.2,896.8L1426.2,895.1L1429.2,893.3L1432.2,891.6L1435.2,889.8L1438.2,888.1L1441.2,886.3L1444.2,884.5L1447.2,882.7L1450.2,881.0L1453.2,879.2L1456.2,877.4L1459.2,875.6L1462.2,873.8L1465.2,871.9L1468.2,870.1L1471.2,868.3L1474.2,866.5L1477.2,864.6L1480.2,862.8L1483.2,861.0L1486.2,859.1L1489.2,857.2L1492.2,855.4L1495.2,853.5L1498.2,851.7L1501.2,849.8L1504.2,847.9L1507.2,846.0L1510.2,844.1L1513.2,842.2L1516.2,840.3L1519.2,838.4L1522.2,836.5L1525.2,834.6L1528.2,832.7L1531.2,830.7L1534.2,828.8L1537.2,826.9L1540.2,824.9L1543.2,823.0L1546.2,821.1L1549.2,819.1L1552.2,817.2L1555.2,815.2L1558.2,813.2L1561.2,811.3L1564.2,809.3L1567.2,807.3L1570.2,805.3L1573.2,803.4L1576.2,801.4L1579.2,799.4L1582.2,797.4L1585.2,795.4L1588.2,793.4L1591.2,791.4L1594.2,789.4L1597.2,787.4L1600.2,785.4L1603.2,783.4L1606.2,781.3L1609.2,779.3L1612.2,777.3L1615.2,775.3L1618.2,773.2L1621.2,771.2L1624.2,769.2L1627.2,767.1L1630.2,765.1L1633.2,763.0L1636.2,761.0L1639.2,759.0L1642.2,756.9L1645.2,754.9L1648.2,752.8L1651.2,750.7L1654.2,748.7L1657.2,746.6L1660.2,744.6L1663.2,742.5L1666.2,740.4L1669.2,738.4L1672.2,736.3L1675.2,734.2L1678.2,732.2L1681.2,730.1L1684.2,728.0L1687.2,725.9L1690.2,723.9L1693.2,721.8L1696.2,719.7L1699.2,717.6L1702.2,715.5L1705.2,713.4L1708.2,711.4L1711.2,709.3L1714.2,707.2L1717.2,705.1L1720.2,703.0L1723.2,700.9L1726.2,698.9L1729.2,696.8L1732.2,694.7L1735.2,692.6L1738.2,690.5L1741.2,688.4L1744.2,686.3L1747.2,684.2L1750.2,682.2L1753.2,680.1L1756.2,678.0L1759.2,675.9L1762.2,673.8L1765.2,671.7L1768.2,669.7L1771.2,667.6L1774.2,665.5L1777.2,663.4L1780.2,661.4L1783.2,659.3L1786.2,657.2L1789.2,655.2L1792.2,653.1L1795.2,651.0L1798.2,649.0L1801.2,646.9L1804.2,644.8L1807.2,642.8L1810.2,640.7L1813.2,638.6L1816.2,636.6L1819.2,634.5L1822.2,632.5L1825.2,630.4L1828.2,628.4L1831.2,626.3L1834.2,624.2L1837.2,622.2L1840.2,620.1L1843.2,618.1L1846.2,616.0L1849.2,613.9L1852.2,611.9L1855.2,609.8L1858.2,607.7L1861.2,605.7L1864.2,603.6L1867.2,601.5L1870.2,599.5L1873.2,597.4L1876.2,595.3L1879.2,593.2L1882.2,591.1L1885.2,589.1L1888.2,587.0L1891.2,584.9L1894.2,582.8L1897.2,580.7L1900.2,578.6L1903.2,576.5L1906.2,574.5L1909.2,572.4L1912.2,570.3L1915.2,568.2L1918.2,566.1L1921.2,564.0L1924.2,561.9L1927.2,559.8L1930.2,557.7L1933.2,555.6L1936.2,553.5L1939.2,551.4L1942.2,549.3L1945.2,547.2L1948.2,545.1L1951.2,543.0L1954.2,540.9L1957.2,538.8L1960.2,536.7L1963.2,534.6L1966.2,532.5L1969.2,530.4L1972.2,528.3L1975.2,526.2L1978.2,524.1L1981.2,521.9L1984.2,519.8L1987.2,517.7L1990.2,515.6L1993.2,513.5L1996.2,511.4L1999.2,509.3L2002.2,507.2L2005.2,505.1L2008.2,503.0L2011.2,500.9L2014.2,498.8L2017.2,496.7L2020.2,494.6L2023.2,492.5L2026.2,490.4L2029.2,488.3L2032.2,486.2L2035.2,484.1L2038.2,482.0L2041.2,479.9L2044.2,477.8L2047.2,475.7L2050.2,473.6L2053.2,471.5L2056.2,469.4L2059.2,467.3L2062.2,465.3L2065.2,463.2L2068.2,461.1L2071.2,459.0L2074.2,456.9L2077.2,454.8L2080.2,452.8L2083.2,450.7L2086.2,448.6L2089.2,446.5L2092.2,444.4L2095.2,442.4L2098.2,440.3L2101.2,438.2L2104.2,436.2L2107.2,434.1L2110.2,432.0L2113.2,430.0L2116.2,427.9L2119.2,425.9L2122.2,423.8L2125.2,421.7L2128.2,419.7L2131.2,417.6L2134.2,415.6L2137.2,413.6L2140.2,411.5L2143.2,409.5L2146.2,407.4L2149.2,405.4L2152.2,403.3L2155.2,401.3L2158.2,399.3L2161.2,397.2L2164.2,395.2L2167.2,393.2L2170.2,391.2L2173.2,389.1L2176.2,387.1L2179.2,385.1L2182.2,383.1L2185.2,381.1L2188.2,379.0L2191.2,377.0L2194.2,375.0L2197.2,373.0L2200.2,371.0L2203.2,369.0L2206.2,367.0L2209.2,365.0L2212.2,363.0L2215.2,360.9L2218.2,358.9L2221.2,356.9L2224.2,354.9L2227.2,352.9L2230.2,351.0L2233.2,349.0L2236.2,347.0L2239.2,345.0L2242.2,343.0L2245.2,341.0L2248.2,339.0L2251.2,337.0L2254.2,335.0L2257.2,333.0L2260.2,331.1L2263.2,329.1L2266.2,327.1L2269.2,325.1L2272.2,323.1L2275.2,321.2L2278.2,319.2L2281.2,317.2L2284.2,315.2L2287.2,313.3L2290.2,311.3L2293.2,309.3L2296.2,307.3L2299.2,305.4L2302.2,303.4L2305.2,301.4L2308.2,299.5L2311.2,297.5L2314.2,295.5L2317.2,293.6L2320.2,291.6L2322.5,290.1" stroke="#EDB120"/>
<path d="M172.2,1734.0L172.2,1732.5L172.2,1731.0L172.3,1729.5L172.3,1728.0L172.3,1726.5L172.3,1725.0L172.4,1723.5L172.4,1722.0L172.4,1720.5L172.4,1719.0L172.4,1717.5L172.5,1716.0L172.5,1714.5L172.5,1713.0L172.5,1711.5L172.5,1710.0L172.6,1708.5L172.6,1707.0L172.6,1705.5L172.6,1704.0L172.6,1702.5L172.6,1701.0L172.7,1699.5L172.7,1698.0L172.7,1696.5L172.7,1695.0L172.7,1693.5L172.7,1692.0L172.8,1690.5L172.8,1689.0L172.8,1687.5L172.8,1686.0L172.8,1684.5L172.8,1683.0L172.8,1681.5L172.9,1680.0L172.9,1678.5L172.9,1677.0L172.9,1675.5L172.9,1674.0L172.9,1672.5L172.9,1671.0L173.0,1669.5L173.0,1668.0L173.0,1666.5L173.0,1665.0L173.0,1663.5L173.0,1662.0L173.0,1660.5L173.0,1659.0L173.0,1657.5L173.1,1656.0L173.1,1654.5L173.1,1653.0L173.1,1651.5L173.1,1650.0L173.1,1648.5L173.1,1647.0L173.1,1645.5L173.1,1644.0L173.1,1642.5L173.2,1641.0L173.2,1639.5L173.2,1638.0L173.2,1636.5L173.2,1635.0L173.2,1633.5L173.2,1632.0L173.2,1630.5L173.2,1629.0L173.2,1627.5L173.2,1626.0L173.2,1624.5L173.2,1623.0L173.3,1621.5L173.3,1620.0L173.3,1618.5L173.3,1617.0L173.3,1615.5L173.3,1614.0L173.3,1612.5L173.3,1611.0L173.3,1609.5L173.3,1608.0L173.3,1606.5L173.3,1605.0L173.3,1603.5L173.3,1602.0L173.3,1600.5L173.4,1599.0L173.4,1597.5L173.4,1596.0L173.4,1594.5L173.4,1593.0L173.4,1591.5L173.4,1590.0L173.4,1588.5L173.4,1587.0L173.4,1585.5L173.4,1584.0L173.4,1582.5L173.4,1581.0L173.4,1579.5L173.5,1578.0L173.5,1576.5L173.5,1575.0L173.5,1573.5L173.5,1572.0L173.5,1570.5L173.5,1569.0L173.5,1567.5L173.5,1566.0L173.5,1564.5L173.5,1563.0L173.6,1561.5L173.6,1560.0L173.6,1558.5L173.6,1557.0L173.6,1555.5L173.6,1554.0L173.6,1552.5L173.6,1551.0L173.6,1549.5L173.7,1548.0L173.7,1546.5L173.7,1545.0L173.7,1543.5L173.7,1542.0L173.7,1540.5L173.7,1539.0L173.7,1537.5L173.7,1536.0L173.8,1534.5L173.8,1533.0L173.8,1531.5L173.8,1530.0L173.8,1528.5L173.8,1527.0L173.8,1525.5L173.8,1524.0L173.9,1522.5L173.9,1521.0L173.9,1519.5L173.9,1518.0L173.9,1516.5L173.9,1515.0L173.9,1513.5L173.9,1512.0L174.0,1510.5L174.0,1509.0L174.0,1507.5L174.0,1506.0L174.0,1504.5L174.0,1503.0L174.0,1501.5L174.0,1500.0L174.1,1498.5L174.1,1497.0L174.1,1495.5L174.1,1494.0L174.1,1492.5L174.1,1491.0L174.1,1489.5L174.1,1488.0L174.1,1486.5L174.2,1485.0L174.2,1483.5L174.2,1482.0L174.2,1480.5L174.2,1479.0L174.2,1477.5L174.2,1476.0L174.2,1474.5L174.3,1473.0L174.3,1471.5L174.3,1470.0L174.3,1468.5L174.3,1467.0L174.3,1465.5L174.3,1464.0L174.3,1462.5L174.3,1461.0L174.4,1459.5L174.4,1458.0L174.4,1456.5L174.4,1455.0L174.4,1453.5L174.4,1452.0L174.4,1450.5L174.4,1449.0L174.4,1447.5L174.4,1446.0L174.5,1444.5L174.5,1443.0L174.5,1441.5L174.5,1440.0L174.5,1438.5L174.5,1437.0L174.5,1435.5L174.5,1434.0L174.5,1432.5L174.6,1431.0L174.6,1429.5L174.6,1428.0L174.6,1426.5L174.6,1425.0L174.6,1423.5L174.6,1422.0L174.6,1420.5L174.6,1419.0L174.7,1417.5L174.7,1416.0L174.7,1414.5L174.7,1413.0L174.7,1411.5L174.7,1410.0L174.7,1408.5L174.7,1407.0L174.8,1405.5L174.8,1404.0L174.8,1402.5L174.8,1401.0L174.8,1399.5L174.8,1398.0L174.8,1396.5L174.8,1395.0L174.9,1393.5L174.9,1392.0L174.9,1390.5L174.9,1389.0L174.9,1387.5L174.9,1386.0L174.9,1384.5L174.9,1383.0L175.0,1381.5L175.0,1380.0L175.0,1378.5L175.0,1377.0L175.0,1375.5L175.0,1374.0L175.0,1372.5L175.1,1371.0L175.1,1369.5L175.1,1368.0L175.1,1366.5L175.1,1365.0L175.1,1363.5L175.2,1362.0L175.2,1360.5L175.2,1359.0L175.2,1357.5L175.2,1356.0L175.2,1354.5L175.2,1353.0L175.3,1351.5L175.3,1350.0L175.3,1348.5L175.3,1347.0L175.3,1345.5L175.4,1344.0L175.4,1342.5L175.4,1341.0L175.4,1339.5L175.4,1338.0L175.4,1336.5L175.5,1335.0L175.5,1333.5L175.5,1332.0L175.5,1330.5L175.5,1329.0L175.6,1327.5L175.6,1326.0L175.6,1324.5L175.6,1323.0L175.6,1321.5L175.7,1320.0L175.7,1318.5L175.7,1317.0L175.7,1315.5L175.7,1314.0L175.8,1312.5L175.8,1311.0L175.8,1309.5L175.8,1308.0L175.9,1306.5L175.9,1305.0L175.9,1303.5L175.9,1302.0L176.0,1300.5L176.0,1299.0L176.0,1297.5L176.1,1296.0L176.1,1294.5L176.1,1293.0L176.2,1291.5L176.2,1290.0L176.2,1288.5L176.3,1287.0L176.3,1285.5L176.4,1284.0L176.4,1282.5L176.5,1281.0L176.5,1279.5L176.6,1278.0L176.7,1276.5L176.7,1275.0L176.8,1273.5L176.9,1272.0L177.0,1270.5L177.0,1269.0L177.1,1267.5L177.2,1266.0L177.3,1264.5L177.4,1263.0L177.5,1261.6L177.7,1260.1L177.8,1258.6L178.0,1257.1L178.1,1255.6L178.3,1254.1L178.5,1252.6L178.7,1251.1L179.0,1249.6L179.2,1248.2L179.4,1246.7L179.7,1245.2L179.9,1243.7L180.2,1242.2L180.5,1240.8L180.9,1239.3L181.3,1237.8L181.7,1236.4L182.2,1234.9L182.7,1233.6L183.4,1232.3L184.2,1231.0L185.1,1229.8L186.1,1228.7L187.2,1227.6L188.4,1226.6L189.5,1225.7L190.7,1224.8L192.0,1224.0L193.4,1223.3L194.7,1222.7L196.1,1222.2L197.5,1221.7L199.0,1221.2L200.4,1220.8L201.9,1220.4L203.3,1220.0L204.8,1219.7L206.3,1219.3L207.7,1219.0L209.2,1218.7L210.7,1218.4L212.1,1218.1L213.6,1217.8L215.1,1217.5L216.6,1217.3L218.0,1217.0L219.5,1216.7L221.0,1216.5L222.5,1216.3L224.0,1216.1L225.5,1215.9L227.0,1215.7L228.4,1215.5L229.9,1215.3L231.4,1215.1L232.9,1215.0L234.4,1214.8L235.9,1214.6L237.4,1214.5L238.9,1214.3L240.3,1214.2L241.8,1214.0L243.3,1213.9L244.8,1213.7L246.3,1213.6L247.8,1213.4L249.3,1213.3L250.8,1213.2L252.3,1213.0L253.8,1212.9L255.3,1212.8L256.8,1212.7L258.3,1212.6L259.8,1212.4L261.3,1212.3L262.8,1212.2L264.3,1212.1L265.8,1212.0L267.3,1211.9L268.8,1211.8L270.3,1211.7L271.8,1211.6L273.3,1211.5L274.8,1211.4L276.3,1211.3L277.8,1211.3L279.3,1211.2L280.0,1211.1L283.0,1211.0L286.0,1210.9L289.0,1210.8L292.0,1210.7L295.0,1210.5L298.0,1210.4L301.0,1210.3L304.0,1210.2L307.0,1210.0L310.0,1209.9L313.0,1209.7L316.0,1209.6L319.0,1209.5L322.0,1209.3L325.0,1209.2L328.0,1209.0L331.0,1208.9L334.0,1208.7L337.0,1208.5L340.0,1208.4L343.0,1208.2L346.0,1208.1L349.0,1207.9L352.0,1207.7L355.0,1207.5L358.0,1207.4L361.0,1207.2L364.0,1207.0L367.0,1206.8L370.0,1206.6L373.0,1206.4L376.0,1206.3L379.0,1206.1L382.0,1205.9L385.0,1205.7L388.0,1205.5L391.0,1205.3L394.0,1205.0L397.0,1204.8L400.0,1204.6L403.0,1204.4L406.0,1204.2L409.0,1204.0L412.0,1203.8L415.0,1203.5L418.0,1203.3L421.0,1203.1L424.0,1202.8L427.0,1202.6L430.0,1202.4L433.0,1202.1L436.0,1201.9L439.0,1201.6L442.0,1201.4L445.0,1201.1L448.0,1200.9L451.0,1200.6L454.0,1200.4L457.0,1200.1L460.0,1199.8L463.0,1199.6L466.0,1199.3L469.0,1199.0L472.0,1198.8L475.0,1198.5L478.0,1198.2L481.0,1197.9L484.0,1197.6L487.0,1197.3L490.0,1197.1L493.0,1196.8L496.0,1196.5L499.0,1196.2L502.0,1195.9L505.0,1195.6L508.0,1195.3L511.0,1194.9L514.0,1194.6L517.0,1194.3L520.0,1194.0L523.0,1193.7L526.0,1193.3L529.0,1193.0L532.0,1192.7L535.0,1192.4L538.0,1192.0L541.0,1191.7L544.0,1191.3L547.0,1191.0L550.0,1190.7L553.0,1190.3L556.0,1190.0L559.0,1189.6L562.0,1189.2L565.0,1188.9L568.0,1188.5L571.0,1188.1L574.0,1187.8L577.0,1187.4L580.0,1187.0L583.0,1186.6L586.0,1186.3L589.0,1185.9L592.0,1185.5L595.0,1185.1L598.0,1184.7L601.0,1184.3L604.0,1183.9L607.0,1183.5L610.0,1183.1L613.0,1182.7L616.0,1182.2L619.0,1181.8L622.0,1181.4L625.0,1181.0L628.0,1180.6L631.0,1180.1L634.0,1179.7L637.0,1179.2L640.0,1178.8L643.0,1178.4L646.0,1177.9L649.0,1177.5L652.0,1177.0L655.0,1176.5L658.0,1176.1L661.0,1175.6L664.0,1175.1L667.0,1174.7L670.0,1174.2L673.0,1173.7L676.0,1173.2L679.0,1172.7L682.0,1172.2L685.0,1171.7L688.0,1171.2L691.0,1170.7L694.0,1170.2L697.0,1169.7L700.0,1169.2L703.0,1168.7L706.0,1168.1L709.0,1167.6L712.0,1167.1L715.0,1166.6L718.0,1166.0L721.0,1165.5L724.0,1164.9L727.0,1164.4L730.0,1163.8L733.0,1163.3L736.0,1162.7L739.0,1162.1L742.0,1161.6L745.0,1161.0L748.0,1160.4L751.0,1159.8L754.0,1159.2L757.0,1158.6L760.0,1158.0L763.0,1157.4L766.0,1156.8L769.0,1156.2L772.0,1155.6L775.0,1155.0L778.0,1154.4L781.0,1153.7L784.0,1153.1L787.0,1152.5L790.0,1151.8L793.0,1151.2L796.0,1150.5L799.0,1149.9L802.0,1149.2L805.0,1148.6L808.0,1147.9L811.0,1147.2L814.0,1146.6L817.0,1145.9L820.0,1145.2L823.0,1144.5L826.0,1143.8L829.0,1143.1L832.0,1142.4L835.0,1141.7L838.0,1141.0L841.0,1140.3L844.0,1139.5L847.0,1138.8L850.0,1138.1L853.0,1137.3L856.0,1136.6L859.0,1135.8L862.0,1135.1L865.0,1134.3L868.0,1133.6L871.0,1132.8L874.0,1132.0L877.0,1131.2L880.0,1130.5L883.0,1129.7L886.0,1128.9L889.0,1128.1L892.0,1127.3L895.0,1126.5L898.0,1125.7L901.0,1124.8L904.0,1124.0L907.0,1123.2L910.0,1122.3L913.0,1121.5L916.0,1120.7L919.0,1119.8L922.0,1118.9L925.0,1118.1L928.0,1117.2L931.0,1116.3L934.0,1115.5L937.0,1114.6L940.0,1113.7L943.0,1112.8L946.0,1111.9L949.0,1111.0L952.0,1110.1L955.0,1109.2L958.0,1108.2L961.0,1107.3L964.0,1106.4L967.0,1105.4L970.0,1104.5L973.0,1103.5L976.0,1102.6L979.0,1101.6L982.0,1100.6L985.0,1099.7L988.0,1098.7L991.0,1097.7L994.0,1096.7L997.0,1095.7L1000.0,1094.7L1003.0,1093.7L1006.0,1092.7L1009.0,1091.6L1012.0,1090.6L1015.0,1089.6L1018.0,1088.5L1021.0,1087.5L1024.0,1086.4L1027.0,1085.4L1030.0,1084.3L1033.0,1083.2L1036.0,1082.2L1039.0,1081.1L1042.0,1080.0L1045.0,1078.9L1048.0,1077.8L1051.0,1076.7L1054.0,1075.6L1057.0,1074.4L1060.0,1073.3L1063.0,1072.2L1066.0,1071.0L1069.0,1069.9L1072.0,1068.7L1075.0,1067.6L1078.0,1066.4L1081.0,1065.2L1084.0,1064.0L1087.0,1062.9L1090.0,1061.7L1093.0,1060.5L1096.0,1059.3L1099.0,1058.1L1102.0,1056.8L1105.0,1055.6L1108.0,1054.4L1111.0,1053.2L1114.0,1051.9L1117.0,1050.7L1120.0,1049.4L1123.0,1048.2L1126.0,1046.9L1129.0,1045.7L1132.0,1044.4L1135.0,1043.1L1138.0,1041.8L1141.0,1040.6L1144.0,1039.3L1147.0,1038.0L1150.0,1036.7L1153.0,1035.4L1156.0,1034.1L1159.0,1032.8L1162.0,1031.5L1165.0,1030.2L1168.0,1028.8L1171.0,1027.5L1174.0,1026.2L1177.0,1024.8L1180.0,1023.5L1183.0,1022.1L1186.0,1020.8L1189.0,1019.4L1192.0,1018.0L1195.0,1016.7L1198.0,1015.3L1201.0,1013.9L1204.0,1012.5L1207.0,1011.1L1210.0,1009.7L1213.0,1008.3L1216.0,1006.9L1219.0,1005.5L1222.0,1004.1L1225.0,1002.6L1228.0,1001.2L1231.0,999.8L1234.0,998.3L1237.0,996.9L1240.0,995.4L1243.0,993.9L1246.0,992.5L1249.0,991.0L1252.0,989.5L1255.0,988.0L1258.0,986.5L1261.0,985.0L1264.0,983.5L1267.0,982.0L1270.0,980.5L1273.0,979.0L1276.0,977.5L1279.0,975.9L1282.0,974.4L1285.0,972.9L1288.0,971.3L1291.0,969.8L1294.0,968.2L1297.0,966.6L1300.0,965.1L1303.0,963.5L1306.0,961.9L1309.0,960.4L1312.0,958.8L1315.0,957.2L1318.0,955.6L1321.0,954.0L1324.0,952.4L1327.0,950.8L1330.0,949.2L1333.0,947.5L1336.0,945.9L1339.0,944.3L1342.0,942.7L1345.0,941.0L1348.0,939.4L1351.0,937.8L1354.0,936.1L1357.0,934.5L1360.0,932.8L1363.0,931.1L1366.0,929.5L1369.0,927.8L1372.0,926.1L1375.0,924.5L1378.0,922.8L1381.0,921.1L1384.0,919.4L1387.0,917.7L1390.0,916.0L1393.0,914.3L1396.0,912.6L1399.0,910.9L1402.0,909.2L1405.0,907.5L1408.0,905.8L1411.0,904.1L1414.0,902.3L1417.0,900.6L1420.0,898.9L1423.0,897.1L1426.0,895.4L1429.0,893.6L1432.0,891.9L1435.0,890.1L1438.0,888.4L1441.0,886.6L1444.0,884.8L1447.0,883.0L1450.0,881.3L1453.0,879.5L1456.0,877.7L1459.0,875.9L1462.0,874.1L1465.0,872.2L1468.0,870.4L1471.0,868.6L1474.0,866.8L1477.0,864.9L1480.0,863.1L1483.0,861.3L1486.0,859.4L1489.0,857.5L1492.0,855.7L1495.0,853.8L1498.0,852.0L1501.0,850.1L1504.0,848.2L1507.0,846.3L1510.0,844.4L1513.0,842.5L1516.0,840.6L1519.0,838.7L1522.0,836.8L1525.0,834.9L1528.0,833.0L1531.0,831.0L1534.0,829.1L1537.0,827.2L1540.0,825.2L1543.0,823.3L1546.0,821.4L1549.0,819.4L1552.0,817.5L1555.0,815.5L1558.0,813.5L1561.0,811.6L1564.0,809.6L1567.0,807.6L1570.0,805.6L1573.0,803.7L1576.0,801.7L1579.0,799.7L1582.0,797.7L1585.0,795.7L1588.0,793.7L1591.0,791.7L1594.0,789.7L1597.0,787.7L1600.0,785.7L1603.0,783.7L1606.0,781.6L1609.0,779.6L1612.0,777.6L1615.0,775.6L1618.0,773.5L1621.0,771.5L1624.0,769.5L1627.0,767.4L1630.0,765.4L1633.0,763.3L1636.0,761.3L1639.0,759.3L1642.0,757.2L1645.0,755.2L1648.0,753.1L1651.0,751.0L1654.0,749.0L1657.0,746.9L1660.0,744.9L1663.0,742.8L1666.0,740.7L1669.0,738.7L1672.0,736.6L1675.0,734.5L1678.0,732.5L1681.0,730.4L1684.0,728.3L1687.0,726.2L1690.0,724.2L1693.0,722.1L1696.0,720.0L1699.0,717.9L1702.0,715.8L1705.0,713.7L1708.0,711.7L1711.0,709.6L1714.0,707.5L1717.0,705.4L1720.0,703.3L1723.0,701.2L1726.0,699.2L1729.0,697.1L1732.0,695.0L1735.0,692.9L1738.0,690.8L1741.0,688.7L1744.0,686.6L1747.0,684.5L1750.0,682.5L1753.0,680.4L1756.0,678.3L1759.0,676.2L1762.0,674.1L1765.0,672.0L1768.0,670.0L1771.0,667.9L1774.0,665.8L1777.0,663.7L1780.0,661.7L1783.0,659.6L1786.0,657.5L1789.0,655.5L1792.0,653.4L1795.0,651.3L1798.0,649.3L1801.0,647.2L1804.0,645.1L1807.0,643.1L1810.0,641.0L1813.0,638.9L1816.0,636.9L1819.0,634.8L1822.0,632.8L1825.0,630.7L1828.0,628.7L1831.0,626.6L1834.0,624.5L1837.0,622.5L1840.0,620.4L1843.0,618.4L1846.0,616.3L1849.0,614.2L1852.0,612.2L1855.0,610.1L1858.0,608.0L1861.0,606.0L1864.0,603.9L1867.0,601.8L1870.0,599.8L1873.0,597.7L1876.0,595.6L1879.0,593.5L1882.0,591.4L1885.0,589.4L1888.0,587.3L1891.0,585.2L1894.0,583.1L1897.0,581.0L1900.0,578.9L1903.0,576.8L1906.0,574.8L1909.0,572.7L1912.0,570.6L1915.0,568.5L1918.0,566.4L1921.0,564.3L1924.0,562.2L1927.0,560.1L1930.0,558.0L1933.0,555.9L1936.0,553.8L1939.0,551.7L1942.0,549.6L1945.0,547.5L1948.0,545.4L1951.0,543.3L1954.0,541.2L1957.0,539.1L1960.0,537.0L1963.0,534.9L1966.0,532.8L1969.0,530.7L1972.0,528.6L1975.0,526.5L1978.0,524.4L1981.0,522.2L1984.0,520.1L1987.0,518.0L1990.0,515.9L1993.0,513.8L1996.0,511.7L1999.0,509.6L2002.0,507.5L2005.0,505.4L2008.0,503.3L2011.0,501.2L2014.0,499.1L2017.0,497.0L2020.0,494.9L2023.0,492.8L2026.0,490.7L2029.0,488.6L2032.0,486.5L2035.0,484.4L2038.0,482.3L2041.0,480.2L2044.0,478.1L2047.0,476.0L2050.0,473.9L2053.0,471.8L2056.0,469.7L2059.0,467.6L2062.0,465.6L2065.0,463.5L2068.0,461.4L2071.0,459.3L2074.0,457.2L2077.0,455.1L2080.0,453.1L2083.0,451.0L2086.0,448.9L2089.0,446.8L2092.0,444.7L2095.0,442.7L2098.0,440.6L2101.0,438.5L2104.0,436.5L2107.0,434.4L2110.0,432.3L2113.0,430.3L2116.0,428.2L2119.0,426.2L2122.0,424.1L2125.0,422.0L2128.0,420.0L2131.0,417.9L2134.0,415.9L2137.0,413.9L2140.0,411.8L2143.0,409.8L2146.0,407.7L2149.0,405.7L2152.0,403.6L2155.0,401.6L2158.0,399.6L2161.0,397.5L2164.0,395.5L2167.0,393.5L2170.0,391.5L2173.0,389.4L2176.0,387.4L2179.0,385.4L2182.0,383.4L2185.0,381.4L2188.0,379.3L2191.0,377.3L2194.0,375.3L2197.0,373.3L2200.0,371.3L2203.0,369.3L2206.0,367.3L2209.0,365.3L2212.0,363.3L2215.0,361.2L2218.0,359.2L2221.0,357.2L2224.0,355.2L2227.0,353.2L2230.0,351.3L2233.0,349.3L2236.0,347.3L2239.0,345.3L2242.0,343.3L2245.0,341.3L2248.0,339.3L2251.0,337.3L2254.0,335.3L2257.0,333.3L2260.0,331.4L2263.0,329.4L2266.0,327.4L2269.0,325.4L2272.0,323.4L2275.0,321.5L2278.0,319.5L2281.0,317.5L2284.0,315.5L2287.0,313.6L2290.0,311.6L2293.0,309.6L2296.0,307.6L2299.0,305.7L2302.0,303.7L2305.0,301.7L2308.0,299.8L2311.0,297.8L2314.0,295.8L2317.0,293.9L2320.0,291.9L2322.3,290.4" stroke="#7E2F8E"/>
<path d="M172.2,1734.0L2322.5,1734.0" stroke="#77AC30"/>
<path d="M172.4,1734.0L172.4,1732.5L172.5,1731.0L172.5,1729.5L172.5,1728.0L172.6,1726.5L172.6,1725.0L172.6,1723.5L172.7,1722.0L172.8,1720.5L172.8,1719.0L172.9,1717.5L172.9,1716.0L173.0,1714.5L173.1,1713.0L173.1,1711.5L173.2,1710.0L173.3,1708.5L173.3,1707.0L173.4,1705.5L173.5,1704.0L173.6,1702.5L173.6,1701.0L173.7,1699.5L173.8,1698.0L173.9,1696.5L174.1,1695.0L174.2,1693.5L174.3,1692.0L174.5,1690.6L174.6,1689.1L174.7,1687.6L174.8,1686.1L174.8,1684.6L174.8,1683.1L174.9,1681.6L174.9,1680.1L174.9,1678.6L175.0,1677.1L175.0,1675.6L175.0,1674.1L175.1,1672.6L175.1,1671.1L175.1,1669.6L175.1,1668.1L175.2,1666.6L175.2,1665.1L175.2,1663.6L175.2,1662.1L175.3,1660.6L175.3,1659.1L175.3,1657.6L175.3,1656.1L175.3,1654.6L175.4,1653.1L175.4,1651.6L175.4,1650.1L175.4,1648.6L175.4,1647.1L175.4,1645.6L175.5,1644.1L175.5,1642.6L175.5,1641.1L175.5,1639.6L175.5,1638.1L175.5,1636.6L175.5,1635.1L175.5,1633.6L175.6,1632.1L175.6,1630.6L175.6,1629.1L175.6,1627.6L175.6,1626.1L175.6,1624.6L175.6,1623.1L175.6,1621.6L175.6,1620.1L175.7,1618.6L175.7,1617.1L175.7,1615.6L175.7,1614.1L175.7,1612.6L175.7,1611.1L175.7,1609.6L175.7,1608.1L175.7,1606.6L175.8,1605.1L175.8,1603.6L175.8,1602.1L175.8,1600.6L175.8,1599.1L175.8,1597.6L175.8,1596.1L175.9,1594.6L175.9,1593.1L175.9,1591.6L175.9,1590.1L175.9,1588.6L175.9,1587.1L175.9,1585.6L176.0,1584.1L176.0,1582.6L176.0,1581.1L176.0,1579.6L176.0,1578.1L176.0,1576.6L176.1,1575.1L176.1,1573.6L176.1,1572.1L176.1,1570.6L176.1,1569.1L176.1,1567.6L176.1,1566.1L176.2,1564.6L176.2,1563.1L176.2,1561.6L176.2,1560.1L176.2,1558.6L176.2,1557.1L176.3,1555.6L176.3,1554.1L176.3,1552.6L176.3,1551.1L176.3,1549.6L176.3,1548.1L176.3,1546.6L176.4,1545.1L176.4,1543.6L176.4,1542.1L176.4,1540.6L176.4,1539.1L176.4,1537.6L176.4,1536.1L176.5,1534.6L176.5,1533.1L176.5,1531.6L176.5,1530.1L176.5,1528.6L176.5,1527.1L176.5,1525.6L176.6,1524.1L176.6,1522.6L176.6,1521.1L176.6,1519.6L176.6,1518.1L176.6,1516.6L176.7,1515.1L176.7,1513.6L176.7,1512.1L176.7,1510.6L176.7,1509.1L176.7,1507.6L176.7,1506.1L176.8,1504.6L176.8,1503.1L176.8,1501.6L176.8,1500.1L176.8,1498.6L176.8,1497.1L176.8,1495.6L176.9,1494.1L176.9,1492.6L176.9,1491.1L176.9,1489.6L176.9,1488.1L176.9,1486.6L176.9,1485.1L177.0,1483.6L177.0,1482.1L177.0,1480.6L177.0,1479.1L177.0,1477.6L177.0,1476.1L177.0,1474.6L177.1,1473.1L177.1,1471.6L177.1,1470.1L177.1,1468.6L177.1,1467.1L177.1,1465.6L177.1,1464.1L177.1,1462.6L177.2,1461.1L177.2,1459.6L177.2,1458.1L177.2,1456.6L177.2,1455.1L177.2,1453.6L177.2,1452.1L177.3,1450.6L177.3,1449.1L177.3,1447.6L177.3,1446.1L177.3,1444.6L177.3,1443.1L177.4,1441.6L177.4,1440.1L177.4,1438.6L177.4,1437.1L177.4,1435.6L177.4,1434.1L177.5,1432.6L177.5,1431.1L177.5,1429.6L177.5,1428.1L177.5,1426.6L177.5,1425.1L177.6,1423.6L177.6,1422.1L177.6,1420.6L177.6,1419.1L177.6,1417.6L177.7,1416.1L177.7,1414.6L177.7,1413.1L177.7,1411.6L177.7,1410.1L177.8,1408.6L177.8,1407.1L177.8,1405.6L177.8,1404.1L177.8,1402.6L177.9,1401.1L177.9,1399.6L177.9,1398.1L177.9,1396.6L178.0,1395.1L178.0,1393.6L178.0,1392.1L178.0,1390.6L178.0,1389.1L178.1,1387.6L178.1,1386.1L178.1,1384.6L178.2,1383.1L178.2,1381.6L178.2,1380.1L178.2,1378.6L178.3,1377.1L178.3,1375.6L178.3,1374.1L178.3,1372.6L178.4,1371.1L178.4,1369.6L178.4,1368.1L178.5,1366.6L178.5,1365.1L178.5,1363.6L178.6,1362.1L178.6,1360.6L178.6,1359.1L178.7,1357.6L178.7,1356.1L178.7,1354.6L178.7,1353.1L178.8,1351.6L178.8,1350.1L178.8,1348.6L178.9,1347.1L178.9,1345.6L179.0,1344.1L179.0,1342.6L179.0,1341.1L179.1,1339.6L179.1,1338.1L179.2,1336.6L179.2,1335.1L179.3,1333.6L179.3,1332.1L179.4,1330.6L179.4,1329.1L179.5,1327.6L179.6,1326.1L179.6,1324.6L179.7,1323.1L179.8,1321.6L179.9,1320.1L180.1,1318.6L180.2,1317.1L180.3,1315.6L180.4,1314.1L180.5,1312.6L180.6,1311.1L180.6,1309.6L180.7,1308.1L180.7,1306.6L180.8,1305.1L180.9,1303.6L181.0,1302.1L181.1,1300.6L181.2,1299.2L181.3,1297.6L181.5,1296.1L181.8,1294.6L182.1,1293.2L182.4,1291.7L182.8,1290.3L183.5,1288.9L184.3,1287.6L185.2,1286.4L186.1,1285.3L187.2,1284.3L188.5,1283.3L189.8,1282.6L191.1,1282.0L192.5,1281.5L194.0,1281.1L195.5,1280.7L196.9,1280.4L198.4,1280.2L199.9,1280.0L201.4,1279.8L202.9,1279.6L204.4,1279.5L205.9,1279.4L207.4,1279.3L208.9,1279.3L210.4,1279.3L211.9,1279.3L213.4,1279.3L214.9,1279.3L216.4,1279.3L217.9,1279.3L219.4,1279.3L220.9,1279.4L222.4,1279.5L223.9,1279.7L225.3,1279.9L226.8,1280.1L228.3,1280.3L229.8,1280.5L231.3,1280.6L232.8,1280.8L234.3,1281.0L235.8,1281.1L237.3,1281.3L238.8,1281.5L240.3,1281.7L241.7,1281.8L243.2,1282.0L244.7,1282.2L246.2,1282.4L247.7,1282.5L249.2,1282.7L250.7,1282.9L252.2,1283.1L253.7,1283.2L255.2,1283.4L256.6,1283.6L258.1,1283.7L259.6,1283.9L261.1,1284.1L262.6,1284.2L264.1,1284.4L265.6,1284.6L267.1,1284.7L268.6,1284.9L270.1,1285.1L271.6,1285.2L273.0,1285.4L274.5,1285.6L276.0,1285.8L277.5,1286.0L279.0,1286.2L280.0,1286.3L283.0,1286.9L286.0,1287.4L289.0,1287.9L292.0,1288.5L295.0,1289.0L298.0,1289.5L301.0,1290.1L304.0,1290.6L307.0,1291.1L310.0,1291.6L313.0,1292.2L316.0,1292.7L319.0,1293.2L322.0,1293.7L325.0,1294.3L328.0,1294.8L331.0,1295.3L334.0,1295.8L337.0,1296.4L340.0,1296.9L343.0,1297.4L346.0,1297.9L349.0,1298.5L352.0,1299.0L355.0,1299.5L358.0,1300.0L361.0,1300.6L364.0,1301.1L367.0,1301.6L370.0,1302.1L373.0,1302.7L376.0,1303.2L379.0,1303.7L382.0,1304.2L385.0,1304.7L388.0,1305.2L391.0,1305.8L394.0,1306.3L397.0,1306.8L400.0,1307.3L403.0,1307.8L406.0,1308.4L409.0,1308.9L412.0,1309.4L415.0,1309.9L418.0,1310.4L421.0,1310.9L424.0,1311.4L427.0,1312.0L430.0,1312.5L433.0,1313.0L436.0,1313.5L439.0,1314.0L442.0,1314.5L445.0,1315.0L448.0,1315.5L451.0,1316.1L454.0,1316.6L457.0,1317.1L460.0,1317.6L463.0,1318.1L466.0,1318.6L469.0,1319.1L472.0,1319.6L475.0,1320.1L478.0,1320.6L481.0,1321.1L484.0,1321.6L487.0,1322.1L490.0,1322.6L493.0,1323.1L496.0,1323.6L499.0,1324.1L502.0,1324.6L505.0,1325.1L508.0,1325.6L511.0,1326.1L514.0,1326.6L517.0,1327.1L520.0,1327.6L523.0,1328.1L526.0,1328.6L529.0,1329.1L532.0,1329.6L535.0,1330.1L538.0,1330.6L541.0,1331.1L544.0,1331.6L547.0,1332.1L550.0,1332.6L553.0,1333.1L556.0,1333.6L559.0,1334.1L562.0,1334.6L565.0,1335.1L568.0,1335.5L571.0,1336.0L574.0,1336.5L577.0,1337.0L580.0,1337.5L583.0,1338.0L586.0,1338.5L589.0,1339.0L592.0,1339.4L595.0,1339.9L598.0,1340.4L601.0,1340.9L604.0,1341.4L607.0,1341.9L610.0,1342.3L613.0,1342.8L616.0,1343.3L619.0,1343.8L622.0,1344.2L625.0,1344.7L628.0,1345.2L631.0,1345.7L634.0,1346.2L637.0,1346.6L640.0,1347.1L643.0,1347.6L646.0,1348.1L649.0,1348.5L652.0,1349.0L655.0,1349.5L658.0,1349.9L661.0,1350.4L664.0,1350.9L667.0,1351.3L670.0,1351.8L673.0,1352.3L676.0,1352.7L679.0,1353.2L682.0,1353.7L685.0,1354.1L688.0,1354.6L691.0,1355.1L694.0,1355.5L697.0,1356.0L700.0,1356.5L703.0,1356.9L706.0,1357.4L709.0,1357.8L712.0,1358.3L715.0,1358.8L718.0,1359.2L721.0,1359.7L724.0,1360.1L727.0,1360.6L730.0,1361.0L733.0,1361.5L736.0,1361.9L739.0,1362.4L742.0,1362.9L745.0,1363.3L748.0,1363.8L751.0,1364.2L754.0,1364.7L757.0,1365.1L760.0,1365.6L763.0,1366.0L766.0,1366.5L769.0,1366.9L772.0,1367.3L775.0,1367.8L778.0,1368.2L781.0,1368.7L784.0,1369.1L787.0,1369.6L790.0,1370.0L793.0,1370.5L796.0,1370.9L799.0,1371.3L802.0,1371.8L805.0,1372.2L808.0,1372.7L811.0,1373.1L814.0,1373.5L817.0,1374.0L820.0,1374.4L823.0,1374.8L826.0,1375.3L829.0,1375.7L832.0,1376.1L835.0,1376.6L838.0,1377.0L841.0,1377.4L844.0,1377.9L847.0,1378.3L850.0,1378.7L853.0,1379.1L856.0,1379.6L859.0,1380.0L862.0,1380.4L865.0,1380.9L868.0,1381.3L871.0,1381.7L874.0,1382.1L877.0,1382.6L880.0,1383.0L883.0,1383.4L886.0,1383.8L889.0,1384.2L892.0,1384.7L895.0,1385.1L898.0,1385.5L901.0,1385.9L904.0,1386.3L907.0,1386.8L910.0,1387.2L913.0,1387.6L916.0,1388.0L919.0,1388.4L922.0,1388.8L925.0,1389.2L928.0,1389.7L931.0,1390.1L934.0,1390.5L937.0,1390.9L940.0,1391.3L943.0,1391.7L946.0,1392.1L949.0,1392.5L952.0,1392.9L955.0,1393.3L958.0,1393.7L961.0,1394.1L964.0,1394.5L967.0,1395.0L970.0,1395.4L973.0,1395.8L976.0,1396.2L979.0,1396.6L982.0,1397.0L985.0,1397.4L988.0,1397.8L991.0,1398.2L994.0,1398.6L997.0,1399.0L1000.0,1399.3L1003.0,1399.7L1006.0,1400.1L1009.0,1400.5L1012.0,1400.9L1015.0,1401.3L1018.0,1401.7L1021.0,1402.1L1024.0,1402.5L1027.0,1402.9L1030.0,1403.3L1033.0,1403.7L1036.0,1404.1L1039.0,1404.4L1042.0,1404.8L1045.0,1405.2L1048.0,1405.6L1051.0,1406.0L1054.0,1406.4L1057.0,1406.8L1060.0,1407.1L1063.0,1407.5L1066.0,1407.9L1069.0,1408.3L1072.0,1408.7L1075.0,1409.0L1078.0,1409.4L1081.0,1409.8L1084.0,1410.2L1087.0,1410.6L1090.0,1410.9L1093.0,1411.3L1096.0,1411.7L1099.0,1412.1L1102.0,1412.4L1105.0,1412.8L1108.0,1413.2L1111.0,1413.5L1114.0,1413.9L1117.0,1414.3L1120.0,1414.7L1123.0,1415.0L1126.0,1415.4L1129.0,1415.8L1132.0,1416.1L1135.0,1416.5L1138.0,1416.9L1141.0,1417.2L1144.0,1417.6L1147.0,1418.0L1150.0,1418.3L1153.0,1418.7L1156.0,1419.0L1159.0,1419.4L1162.0,1419.8L1165.0,1420.1L1168.0,1420.5L1171.0,1420.9L1174.0,1421.2L1177.0,1421.6L1180.0,1421.9L1183.0,1422.3L1186.0,1422.6L1189.0,1423.0L1192.0,1423.4L1195.0,1423.7L1198.0,1424.1L1201.0,1424.4L1204.0,1424.8L1207.0,1425.1L1210.0,1425.5L1213.0,1425.8L1216.0,1426.2L1219.0,1426.5L1222.0,1426.9L1225.0,1427.2L1228.0,1427.6L1231.0,1427.9L1234.0,1428.3L1237.0,1428.6L1240.0,1429.0L1243.0,1429.3L1246.0,1429.6L1249.0,1430.0L1252.0,1430.3L1255.0,1430.7L1258.0,1431.0L1261.0,1431.4L1264.0,1431.7L1267.0,1432.0L1270.0,1432.4L1273.0,1432.7L1276.0,1433.1L1279.0,1433.4L1282.0,1433.7L1285.0,1434.1L1288.0,1434.4L1291.0,1434.7L1294.0,1435.1L1297.0,1435.4L1300.0,1435.7L1303.0,1436.1L1306.0,1436.4L1309.0,1436.7L1312.0,1437.1L1315.0,1437.4L1318.0,1437.7L1321.0,1438.1L1324.0,1438.4L1327.0,1438.7L1330.0,1439.0L1333.0,1439.4L1336.0,1439.7L1339.0,1440.0L1342.0,1440.4L1345.0,1440.7L1348.0,1441.0L1351.0,1441.3L1354.0,1441.6L1357.0,1442.0L1360.0,1442.3L1363.0,1442.6L1366.0,1442.9L1369.0,1443.3L1372.0,1443.6L1375.0,1443.9L1378.0,1444.2L1381.0,1444.5L1384.0,1444.9L1387.0,1445.2L1390.0,1445.5L1393.0,1445.8L1396.0,1446.1L1399.0,1446.4L1402.0,1446.8L1405.0,1447.1L1408.0,1447.4L1411.0,1447.7L1414.0,1448.0L1417.0,1448.3L1420.0,1448.6L1423.0,1448.9L1426.0,1449.3L1429.0,1449.6L1432.0,1449.9L1435.0,1450.2L1438.0,1450.5L1441.0,1450.8L1444.0,1451.1L1447.0,1451.4L1450.0,1451.7L1453.0,1452.0L1456.0,1452.3L1459.0,1452.6L1462.0,1452.9L1465.0,1453.2L1468.0,1453.5L1471.0,1453.8L1474.0,1454.2L1477.0,1454.5L1480.0,1454.8L1483.0,1455.1L1486.0,1455.4L1489.0,1455.7L1492.0,1456.0L1495.0,1456.3L1498.0,1456.6L1501.0,1456.9L1504.0,1457.1L1507.0,1457.4L1510.0,1457.7L1513.0,1458.0L1516.0,1458.3L1519.0,1458.6L1522.0,1458.9L1525.0,1459.2L1528.0,1459.5L1531.0,1459.8L1534.0,1460.1L1537.0,1460.4L1540.0,1460.7L1543.0,1461.0L1546.0,1461.3L1549.0,1461.5L1552.0,1461.8L1555.0,1462.1L1558.0,1462.4L1561.0,1462.7L1564.0,1463.0L1567.0,1463.3L1570.0,1463.6L1573.0,1463.8L1576.0,1464.1L1579.0,1464.4L1582.0,1464.7L1585.0,1465.0L1588.0,1465.3L1591.0,1465.6L1594.0,1465.8L1597.0,1466.1L1600.0,1466.4L1603.0,1466.7L1606.0,1467.0L1609.0,1467.2L1612.0,1467.5L1615.0,1467.8L1618.0,1468.1L1621.0,1468.4L1624.0,1468.6L1627.0,1468.9L1630.0,1469.2L1633.0,1469.5L1636.0,1469.7L1639.0,1470.0L1642.0,1470.3L1645.0,1470.6L1648.0,1470.8L1651.0,1471.1L1654.0,1471.4L1657.0,1471.7L1660.0,1471.9L1663.0,1472.2L1666.0,1472.5L1669.0,1472.8L1672.0,1473.0L1675.0,1473.3L1678.0,1473.6L1681.0,1473.8L1684.0,1474.1L1687.0,1474.4L1690.0,1474.6L1693.0,1474.9L1696.0,1475.2L1699.0,1475.4L1702.0,1475.7L1705.0,1476.0L1708.0,1476.2L1711.0,1476.5L1714.0,1476.8L1717.0,1477.0L1720.0,1477.3L1723.0,1477.6L1726.0,1477.8L1729.0,1478.1L1732.0,1478.4L1735.0,1478.6L1738.0,1478.9L1741.0,1479.1L1744.0,1479.4L1747.0,1479.7L1750.0,1479.9L1753.0,1480.2L1756.0,1480.4L1759.0,1480.7L1762.0,1481.0L1765.0,1481.2L1768.0,1481.5L1771.0,1481.7L1774.0,1482.0L1777.0,1482.2L1780.0,1482.5L1783.0,1482.8L1786.0,1483.0L1789.0,1483.3L1792.0,1483.5L1795.0,1483.8L1798.0,1484.0L1801.0,1484.3L1804.0,1484.5L1807.0,1484.8L1810.0,1485.0L1813.0,1485.3L1816.0,1485.5L1819.0,1485.8L1822.0,1486.0L1825.0,1486.3L1828.0,1486.5L1831.0,1486.8L1834.0,1487.0L1837.0,1487.3L1840.0,1487.5L1843.0,1487.8L1846.0,1488.0L1849.0,1488.3L1852.0,1488.5L1855.0,1488.8L1858.0,1489.0L1861.0,1489.3L1864.0,1489.5L1867.0,1489.7L1870.0,1490.0L1873.0,1490.2L1876.0,1490.5L1879.0,1490.7L1882.0,1491.0L1885.0,1491.2L1888.0,1491.4L1891.0,1491.7L1894.0,1491.9L1897.0,1492.2L1900.0,1492.4L1903.0,1492.7L1906.0,1492.9L1909.0,1493.1L1912.0,1493.4L1915.0,1493.6L1918.0,1493.8L1921.0,1494.1L1924.0,1494.3L1927.0,1494.6L1930.0,1494.8L1933.0,1495.0L1936.0,1495.3L1939.0,1495.5L1942.0,1495.7L1945.0,1496.0L1948.0,1496.2L1951.0,1496.4L1954.0,1496.7L1957.0,1496.9L1960.0,1497.1L1963.0,1497.4L1966.0,1497.6L1969.0,1497.8L1972.0,1498.1L1975.0,1498.3L1978.0,1498.5L1981.0,1498.8L1984.0,1499.0L1987.0,1499.2L1990.0,1499.5L1993.0,1499.7L1996.0,1499.9L1999.0,1500.2L2002.0,1500.4L2005.0,1500.6L2008.0,1500.8L2011.0,1501.1L2014.0,1501.3L2017.0,1501.5L2020.0,1501.7L2023.0,1502.0L2026.0,1502.2L2029.0,1502.4L2032.0,1502.7L2035.0,1502.9L2038.0,1503.1L2041.0,1503.3L2044.0,1503.6L2047.0,1503.8L2050.0,1504.0L2053.0,1504.2L2056.0,1504.4L2059.0,1504.7L2062.0,1504.9L2065.0,1505.1L2068.0,1505.3L2071.0,1505.6L2074.0,1505.8L2077.0,1506.0L2080.0,1506.2L2083.0,1506.4L2086.0,1506.7L2089.0,1506.9L2092.0,1507.1L2095.0,1507.3L2098.0,1507.5L2101.0,1507.8L2104.0,1508.0L2107.0,1508.2L2110.0,1508.4L2113.0,1508.6L2116.0,1508.9L2119.0,1509.1L2122.0,1509.3L2125.0,1509.5L2128.0,1509.7L2131.0,1509.9L2134.0,1510.2L2137.0,1510.4L2140.0,1510.6L2143.0,1510.8L2146.0,1511.0L2149.0,1511.2L2152.0,1511.4L2155.0,1511.7L2158.0,1511.9L2161.0,1512.1L2164.0,1512.3L2167.0,1512.5L2170.0,1512.7L2173.0,1512.9L2176.0,1513.1L2179.0,1513.4L2182.0,1513.6L2185.0,1513.8L2188.0,1514.0L2191.0,1514.2L2194.0,1514.4L2197.0,1514.6L2200.0,1514.8L2203.0,1515.0L2206.0,1515.2L2209.0,1515.5L2212.0,1515.7L2215.0,1515.9L2218.0,1516.1L2221.0,1516.3L2224.0,1516.5L2227.0,1516.7L2230.0,1516.9L2233.0,1517.1L2236.0,1517.3L2239.0,1517.5L2242.0,1517.7L2245.0,1517.9L2248.0,1518.2L2251.0,1518.4L2254.0,1518.6L2257.0,1518.8L2260.0,1519.0L2263.0,1519.2L2266.0,1519.4L2269.0,1519.6L2272.0,1519.8L2275.0,1520.0L2278.0,1520.2L2281.0,1520.4L2284.0,1520.6L2287.0,1520.8L2290.0,1521.0L2293.0,1521.2L2296.0,1521.4L2299.0,1521.6L2302.0,1521.8L2305.0,1522.0L2308.0,1522.2L2311.0,1522.4L2314.0,1522.6L2317.0,1522.8L2320.0,1523.0L2322.3,1523.2" stroke="#4DBEEE"/>
<path d="M172.4,1734.0L172.4,1732.5L172.5,1731.0L172.5,1729.5L172.5,1728.0L172.6,1726.5L172.6,1725.0L172.7,1723.5L172.7,1722.0L172.7,1720.5L172.8,1719.0L172.8,1717.5L172.9,1716.0L172.9,1714.5L173.0,1713.0L173.0,1711.5L173.1,1710.0L173.1,1708.5L173.1,1707.0L173.2,1705.5L173.2,1704.0L173.3,1702.5L173.3,1701.0L173.3,1699.5L173.3,1698.0L173.4,1696.5L173.4,1695.0L173.4,1693.5L173.4,1692.0L173.4,1690.5L173.4,1689.0L173.5,1687.5L173.5,1686.0L173.5,1684.5L173.5,1683.0L173.5,1681.5L173.5,1680.0L173.5,1678.5L173.5,1677.0L173.6,1675.5L173.6,1674.0L173.6,1672.5L173.6,1671.0L173.6,1669.5L173.6,1668.0L173.6,1666.5L173.6,1665.0L173.7,1663.5L173.7,1662.0L173.7,1660.5L173.7,1659.0L173.7,1657.5L173.7,1656.0L173.7,1654.5L173.8,1653.0L173.8,1651.5L173.8,1650.0L173.8,1648.5L173.8,1647.0L173.9,1645.5L173.9,1644.0L173.9,1642.5L173.9,1641.0L174.0,1639.5L174.0,1638.0L174.0,1636.5L174.0,1635.0L174.1,1633.5L174.1,1632.0L174.1,1630.5L174.1,1629.0L174.2,1627.5L174.2,1626.0L174.2,1624.5L174.3,1623.0L174.3,1621.5L174.3,1620.0L174.4,1618.5L174.4,1617.0L174.4,1615.5L174.5,1614.0L174.5,1612.5L174.5,1611.0L174.6,1609.5L174.6,1608.0L174.6,1606.5L174.6,1605.0L174.7,1603.5L174.7,1602.0L174.7,1600.5L174.8,1599.0L174.8,1597.5L174.9,1596.0L175.0,1594.5L175.1,1593.0L175.2,1591.5L175.3,1590.0L175.5,1588.5L175.7,1587.1L176.1,1585.6L176.7,1584.2L177.5,1583.0L178.8,1582.1L180.1,1581.4L181.5,1580.9L183.0,1580.5L184.4,1580.2L185.9,1580.0L187.4,1579.8L188.9,1579.6L190.4,1579.6L191.9,1579.6L193.4,1579.5L194.9,1579.5L196.4,1579.5L197.9,1579.5L199.4,1579.5L200.9,1579.4L202.4,1579.4L203.9,1579.4L205.4,1579.4L206.9,1579.4L208.4,1579.4L209.9,1579.4L211.4,1579.4L212.9,1579.3L214.4,1579.3L215.9,1579.3L217.4,1579.3L218.9,1579.3L220.4,1579.3L221.9,1579.3L223.4,1579.3L224.9,1579.3L226.4,1579.3L227.9,1579.3L229.4,1579.3L230.9,1579.3L232.4,1579.3L233.9,1579.3L235.4,1579.3L236.9,1579.3L238.4,1579.3L239.9,1579.3L241.4,1579.3L242.9,1579.4L244.4,1579.4L245.9,1579.4L247.4,1579.4L248.9,1579.4L250.4,1579.4L251.9,1579.4L253.4,1579.5L254.9,1579.5L256.4,1579.5L257.9,1579.5L259.4,1579.5L260.9,1579.5L262.4,1579.6L263.9,1579.6L265.4,1579.6L266.9,1579.6L268.4,1579.6L269.9,1579.7L271.4,1579.7L272.9,1579.7L274.4,1579.7L275.9,1579.7L277.4,1579.7L278.9,1579.8L280.0,1579.8L283.0,1579.8L286.0,1579.8L289.0,1579.9L292.0,1579.9L295.0,1579.9L298.0,1580.0L301.0,1580.0L304.0,1580.0L307.0,1580.0L310.0,1580.1L313.0,1580.1L316.0,1580.1L319.0,1580.1L322.0,1580.1L325.0,1580.1L328.0,1580.2L331.0,1580.2L334.0,1580.2L337.0,1580.2L340.0,1580.2L343.0,1580.2L346.0,1580.2L349.0,1580.2L352.0,1580.2L355.0,1580.2L358.0,1580.2L361.0,1580.2L364.0,1580.2L367.0,1580.2L370.0,1580.2L373.0,1580.2L376.0,1580.2L379.0,1580.2L382.0,1580.1L385.0,1580.1L388.0,1580.1L391.0,1580.1L394.0,1580.1L397.0,1580.0L400.0,1580.0L403.0,1580.0L406.0,1579.9L409.0,1579.9L412.0,1579.9L415.0,1579.8L418.0,1579.8L421.0,1579.8L424.0,1579.7L427.0,1579.7L430.0,1579.6L433.0,1579.6L436.0,1579.5L439.0,1579.5L442.0,1579.4L445.0,1579.4L448.0,1579.3L451.0,1579.2L454.0,1579.2L457.0,1579.1L460.0,1579.0L463.0,1579.0L466.0,1578.9L469.0,1578.8L472.0,1578.7L475.0,1578.7L478.0,1578.6L481.0,1578.5L484.0,1578.4L487.0,1578.3L490.0,1578.2L493.0,1578.1L496.0,1578.0L499.0,1577.9L502.0,1577.8L505.0,1577.7L508.0,1577.6L511.0,1577.5L514.0,1577.4L517.0,1577.3L520.0,1577.2L523.0,1577.0L526.0,1576.9L529.0,1576.8L532.0,1576.7L535.0,1576.5L538.0,1576.4L541.0,1576.3L544.0,1576.1L547.0,1576.0L550.0,1575.9L553.0,1575.7L556.0,1575.6L559.0,1575.4L562.0,1575.3L565.0,1575.1L568.0,1574.9L571.0,1574.8L574.0,1574.6L577.0,1574.4L580.0,1574.3L583.0,1574.1L586.0,1573.9L589.0,1573.7L592.0,1573.6L595.0,1573.4L598.0,1573.2L601.0,1573.0L604.0,1572.8L607.0,1572.6L610.0,1572.4L613.0,1572.2L616.0,1572.0L619.0,1571.8L622.0,1571.6L625.0,1571.3L628.0,1571.1L631.0,1570.9L634.0,1570.7L637.0,1570.4L640.0,1570.2L643.0,1570.0L646.0,1569.7L649.0,1569.5L652.0,1569.2L655.0,1569.0L658.0,1568.7L661.0,1568.5L664.0,1568.2L667.0,1568.0L670.0,1567.7L673.0,1567.4L676.0,1567.1L679.0,1566.9L682.0,1566.6L685.0,1566.3L688.0,1566.0L691.0,1565.7L694.0,1565.4L697.0,1565.1L700.0,1564.8L703.0,1564.5L706.0,1564.2L709.0,1563.9L712.0,1563.6L715.0,1563.3L718.0,1563.0L721.0,1562.6L724.0,1562.3L727.0,1562.0L730.0,1561.6L733.0,1561.3L736.0,1560.9L739.0,1560.6L742.0,1560.2L745.0,1559.9L748.0,1559.5L751.0,1559.2L754.0,1558.8L757.0,1558.4L760.0,1558.0L763.0,1557.7L766.0,1557.3L769.0,1556.9L772.0,1556.5L775.0,1556.1L778.0,1555.7L781.0,1555.3L784.0,1554.9L787.0,1554.5L790.0,1554.1L793.0,1553.6L796.0,1553.2L799.0,1552.8L802.0,1552.4L805.0,1551.9L808.0,1551.5L811.0,1551.0L814.0,1550.6L817.0,1550.1L820.0,1549.7L823.0,1549.2L826.0,1548.8L829.0,1548.3L832.0,1547.8L835.0,1547.3L838.0,1546.8L841.0,1546.4L844.0,1545.9L847.0,1545.4L850.0,1544.9L853.0,1544.4L856.0,1543.9L859.0,1543.3L862.0,1542.8L865.0,1542.3L868.0,1541.8L871.0,1541.2L874.0,1540.7L877.0,1540.2L880.0,1539.6L883.0,1539.1L886.0,1538.5L889.0,1538.0L892.0,1537.4L895.0,1536.8L898.0,1536.3L901.0,1535.7L904.0,1535.1L907.0,1534.5L910.0,1533.9L913.0,1533.3L916.0,1532.7L919.0,1532.1L922.0,1531.5L925.0,1530.9L928.0,1530.3L931.0,1529.7L934.0,1529.0L937.0,1528.4L940.0,1527.7L943.0,1527.1L946.0,1526.5L949.0,1525.8L952.0,1525.1L955.0,1524.5L958.0,1523.8L961.0,1523.1L964.0,1522.5L967.0,1521.8L970.0,1521.1L973.0,1520.4L976.0,1519.7L979.0,1519.0L982.0,1518.3L985.0,1517.6L988.0,1516.9L991.0,1516.2L994.0,1515.4L997.0,1514.7L1000.0,1514.0L1003.0,1513.2L1006.0,1512.5L1009.0,1511.7L1012.0,1511.0L1015.0,1510.2L1018.0,1509.5L1021.0,1508.7L1024.0,1507.9L1027.0,1507.2L1030.0,1506.4L1033.0,1505.6L1036.0,1504.8L1039.0,1504.0L1042.0,1503.2L1045.0,1502.4L1048.0,1501.6L1051.0,1500.8L1054.0,1500.0L1057.0,1499.1L1060.0,1498.3L1063.0,1497.5L1066.0,1496.7L1069.0,1495.8L1072.0,1495.0L1075.0,1494.1L1078.0,1493.3L1081.0,1492.4L1084.0,1491.6L1087.0,1490.7L1090.0,1489.8L1093.0,1489.0L1096.0,1488.1L1099.0,1487.2L1102.0,1486.3L1105.0,1485.4L1108.0,1484.5L1111.0,1483.6L1114.0,1482.7L1117.0,1481.8L1120.0,1480.9L1123.0,1480.0L1126.0,1479.1L1129.0,1478.1L1132.0,1477.2L1135.0,1476.3L1138.0,1475.3L1141.0,1474.4L1144.0,1473.4L1147.0,1472.5L1150.0,1471.5L1153.0,1470.6L1156.0,1469.6L1159.0,1468.6L1162.0,1467.7L1165.0,1466.7L1168.0,1465.7L1171.0,1464.7L1174.0,1463.7L1177.0,1462.7L1180.0,1461.8L1183.0,1460.7L1186.0,1459.7L1189.0,1458.7L1192.0,1457.7L1195.0,1456.7L1198.0,1455.7L1201.0,1454.7L1204.0,1453.6L1207.0,1452.6L1210.0,1451.6L1213.0,1450.5L1216.0,1449.5L1219.0,1448.4L1222.0,1447.4L1225.0,1446.3L1228.0,1445.2L1231.0,1444.2L1234.0,1443.1L1237.0,1442.0L1240.0,1441.0L1243.0,1439.9L1246.0,1438.8L1249.0,1437.7L1252.0,1436.6L1255.0,1435.5L1258.0,1434.4L1261.0,1433.3L1264.0,1432.2L1267.0,1431.1L1270.0,1430.0L1273.0,1428.8L1276.0,1427.7L1279.0,1426.6L1282.0,1425.5L1285.0,1424.3L1288.0,1423.2L1291.0,1422.0L1294.0,1420.9L1297.0,1419.7L1300.0,1418.6L1303.0,1417.4L1306.0,1416.3L1309.0,1415.1L1312.0,1413.9L1315.0,1412.7L1318.0,1411.6L1321.0,1410.4L1324.0,1409.2L1327.0,1408.0L1330.0,1406.8L1333.0,1405.6L1336.0,1404.4L1339.0,1403.2L1342.0,1402.0L1345.0,1400.8L1348.0,1399.6L1351.0,1398.4L1354.0,1397.1L1357.0,1395.9L1360.0,1394.7L1363.0,1393.5L1366.0,1392.2L1369.0,1391.0L1372.0,1389.7L1375.0,1388.5L1378.0,1387.2L1381.0,1386.0L1384.0,1384.7L1387.0,1383.5L1390.0,1382.2L1393.0,1380.9L1396.0,1379.6L1399.0,1378.4L1402.0,1377.1L1405.0,1375.8L1408.0,1374.5L1411.0,1373.2L1414.0,1371.9L1417.0,1370.6L1420.0,1369.3L1423.0,1368.0L1426.0,1366.7L1429.0,1365.4L1432.0,1364.1L1435.0,1362.8L1438.0,1361.5L1441.0,1360.1L1444.0,1358.8L1447.0,1357.5L1450.0,1356.2L1453.0,1354.8L1456.0,1353.5L1459.0,1352.1L1462.0,1350.8L1465.0,1349.4L1468.0,1348.1L1471.0,1346.7L1474.0,1345.4L1477.0,1344.0L1480.0,1342.6L1483.0,1341.3L1486.0,1339.9L1489.0,1338.5L1492.0,1337.1L1495.0,1335.7L1498.0,1334.4L1501.0,1333.0L1504.0,1331.6L1507.0,1330.2L1510.0,1328.8L1513.0,1327.4L1516.0,1326.0L1519.0,1324.6L1522.0,1323.1L1525.0,1321.7L1528.0,1320.3L1531.0,1318.9L1534.0,1317.5L1537.0,1316.0L1540.0,1314.6L1543.0,1313.2L1546.0,1311.7L1549.0,1310.3L1552.0,1308.8L1555.0,1307.4L1558.0,1305.9L1561.0,1304.5L1564.0,1303.0L1567.0,1301.6L1570.0,1300.1L1573.0,1298.7L1576.0,1297.2L1579.0,1295.7L1582.0,1294.3L1585.0,1292.8L1588.0,1291.3L1591.0,1289.8L1594.0,1288.4L1597.0,1286.9L1600.0,1285.4L1603.0,1283.9L1606.0,1282.4L1609.0,1280.9L1612.0,1279.4L1615.0,1277.9L1618.0,1276.4L1621.0,1274.9L1624.0,1273.4L1627.0,1271.9L1630.0,1270.4L1633.0,1268.9L1636.0,1267.4L1639.0,1265.9L1642.0,1264.4L1645.0,1262.9L1648.0,1261.4L1651.0,1259.8L1654.0,1258.3L1657.0,1256.8L1660.0,1255.3L1663.0,1253.8L1666.0,1252.2L1669.0,1250.7L1672.0,1249.2L1675.0,1247.7L1678.0,1246.1L1681.0,1244.6L1684.0,1243.1L1687.0,1241.5L1690.0,1240.0L1693.0,1238.5L1696.0,1236.9L1699.0,1235.4L1702.0,1233.9L1705.0,1232.3L1708.0,1230.8L1711.0,1229.3L1714.0,1227.7L1717.0,1226.2L1720.0,1224.6L1723.0,1223.1L1726.0,1221.6L1729.0,1220.0L1732.0,1218.5L1735.0,1216.9L1738.0,1215.4L1741.0,1213.8L1744.0,1212.3L1747.0,1210.8L1750.0,1209.2L1753.0,1207.7L1756.0,1206.1L1759.0,1204.6L1762.0,1203.0L1765.0,1201.5L1768.0,1200.0L1771.0,1198.4L1774.0,1196.9L1777.0,1195.3L1780.0,1193.8L1783.0,1192.2L1786.0,1190.7L1789.0,1189.2L1792.0,1187.6L1795.0,1186.1L1798.0,1184.5L1801.0,1183.0L1804.0,1181.5L1807.0,1179.9L1810.0,1178.4L1813.0,1176.8L1816.0,1175.3L1819.0,1173.8L1822.0,1172.2L1825.0,1170.7L1828.0,1169.1L1831.0,1167.6L1834.0,1166.1L1837.0,1164.5L1840.0,1163.0L1843.0,1161.5L1846.0,1159.9L1849.0,1158.4L1852.0,1156.8L1855.0,1155.3L1858.0,1153.8L1861.0,1152.2L1864.0,1150.7L1867.0,1149.1L1870.0,1147.6L1873.0,1146.1L1876.0,1144.5L1879.0,1143.0L1882.0,1141.4L1885.0,1139.9L1888.0,1138.4L1891.0,1136.8L1894.0,1135.3L1897.0,1133.7L1900.0,1132.2L1903.0,1130.7L1906.0,1129.1L1909.0,1127.6L1912.0,1126.0L1915.0,1124.5L1918.0,1122.9L1921.0,1121.4L1924.0,1119.9L1927.0,1118.3L1930.0,1116.8L1933.0,1115.2L1936.0,1113.7L1939.0,1112.2L1942.0,1110.6L1945.0,1109.1L1948.0,1107.5L1951.0,1106.0L1954.0,1104.5L1957.0,1102.9L1960.0,1101.4L1963.0,1099.8L1966.0,1098.3L1969.0,1096.8L1972.0,1095.2L1975.0,1093.7L1978.0,1092.1L1981.0,1090.6L1984.0,1089.1L1987.0,1087.5L1990.0,1086.0L1993.0,1084.5L1996.0,1082.9L1999.0,1081.4L2002.0,1079.9L2005.0,1078.3L2008.0,1076.8L2011.0,1075.3L2014.0,1073.7L2017.0,1072.2L2020.0,1070.7L2023.0,1069.1L2026.0,1067.6L2029.0,1066.1L2032.0,1064.6L2035.0,1063.0L2038.0,1061.5L2041.0,1060.0L2044.0,1058.4L2047.0,1056.9L2050.0,1055.4L2053.0,1053.9L2056.0,1052.4L2059.0,1050.8L2062.0,1049.3L2065.0,1047.8L2068.0,1046.3L2071.0,1044.7L2074.0,1043.2L2077.0,1041.7L2080.0,1040.2L2083.0,1038.7L2086.0,1037.2L2089.0,1035.6L2092.0,1034.1L2095.0,1032.6L2098.0,1031.1L2101.0,1029.6L2104.0,1028.1L2107.0,1026.6L2110.0,1025.0L2113.0,1023.5L2116.0,1022.0L2119.0,1020.5L2122.0,1019.0L2125.0,1017.5L2128.0,1016.0L2131.0,1014.5L2134.0,1013.0L2137.0,1011.5L2140.0,1010.0L2143.0,1008.4L2146.0,1006.9L2149.0,1005.4L2152.0,1003.9L2155.0,1002.4L2158.0,1000.9L2161.0,999.4L2164.0,997.9L2167.0,996.4L2170.0,994.9L2173.0,993.4L2176.0,991.9L2179.0,990.4L2182.0,988.9L2185.0,987.4L2188.0,985.9L2191.0,984.4L2194.0,982.9L2197.0,981.4L2200.0,979.9L2203.0,978.4L2206.0,977.0L2209.0,975.5L2212.0,974.0L2215.0,972.5L2218.0,971.0L2221.0,969.5L2224.0,968.0L2227.0,966.5L2230.0,965.0L2233.0,963.5L2236.0,962.0L2239.0,960.5L2242.0,959.1L2245.0,957.6L2248.0,956.1L2251.0,954.6L2254.0,953.1L2257.0,951.6L2260.0,950.1L2263.0,948.7L2266.0,947.2L2269.0,945.7L2272.0,944.2L2275.0,942.7L2278.0,941.2L2281.0,939.8L2284.0,938.3L2287.0,936.8L2290.0,935.3L2293.0,933.8L2296.0,932.4L2299.0,930.9L2302.0,929.4L2305.0,927.9L2308.0,926.4L2311.0,925.0L2314.0,923.5L2317.0,922.0L2320.0,920.5L2322.3,919.4" stroke="#A2142F"/>
<path d="M172.4,1734.0L172.4,1732.5L172.4,1731.0L172.4,1729.5L172.5,1728.0L172.5,1726.5L172.5,1725.0L172.6,1723.5L172.6,1722.0L172.6,1720.5L172.7,1719.0L172.8,1717.5L172.9,1716.0L173.0,1714.5L173.1,1713.0L173.2,1711.5L173.3,1710.0L173.4,1708.5L173.4,1707.0L173.5,1705.5L173.5,1704.0L173.5,1702.5L173.6,1701.0L173.6,1699.5L173.6,1698.0L173.6,1696.5L173.7,1695.0L173.7,1693.5L173.7,1692.0L173.7,1690.5L173.7,1689.0L173.7,1687.5L173.8,1686.0L173.8,1684.5L173.8,1683.0L173.8,1681.5L173.8,1680.0L173.8,1678.5L173.8,1677.0L173.8,1675.5L173.9,1674.0L173.9,1672.5L173.9,1671.0L173.9,1669.5L173.9,1668.0L173.9,1666.5L173.9,1665.0L173.9,1663.5L173.9,1662.0L173.9,1660.5L173.9,1659.0L174.0,1657.5L174.0,1656.0L174.0,1654.5L174.0,1653.0L174.0,1651.5L174.0,1650.0L174.0,1648.5L174.0,1647.0L174.0,1645.5L174.0,1644.0L174.0,1642.5L174.1,1641.0L174.1,1639.5L174.1,1638.0L174.1,1636.5L174.1,1635.0L174.1,1633.5L174.1,1632.0L174.1,1630.5L174.1,1629.0L174.1,1627.5L174.1,1626.0L174.1,1624.5L174.1,1623.0L174.1,1621.5L174.1,1620.0L174.2,1618.5L174.2,1617.0L174.2,1615.5L174.2,1614.0L174.2,1612.5L174.2,1611.0L174.2,1609.5L174.2,1608.0L174.2,1606.5L174.2,1605.0L174.2,1603.5L174.2,1602.0L174.2,1600.5L174.2,1599.0L174.3,1597.5L174.3,1596.0L174.3,1594.5L174.3,1593.0L174.3,1591.5L174.3,1590.0L174.3,1588.5L174.3,1587.0L174.3,1585.5L174.3,1584.0L174.4,1582.5L174.4,1581.0L174.4,1579.5L174.4,1578.0L174.4,1576.5L174.4,1575.0L174.4,1573.5L174.5,1572.0L174.5,1570.5L174.5,1569.0L174.5,1567.5L174.5,1566.0L174.5,1564.5L174.6,1563.0L174.6,1561.5L174.6,1560.0L174.6,1558.5L174.6,1557.0L174.6,1555.5L174.7,1554.0L174.7,1552.5L174.7,1551.0L174.7,1549.5L174.7,1548.0L174.8,1546.5L174.8,1545.0L174.8,1543.5L174.8,1542.0L174.8,1540.5L174.9,1539.0L174.9,1537.5L174.9,1536.0L174.9,1534.5L174.9,1533.0L175.0,1531.5L175.0,1530.0L175.0,1528.5L175.0,1527.0L175.0,1525.5L175.0,1524.0L175.1,1522.5L175.1,1521.0L175.1,1519.5L175.1,1518.0L175.1,1516.5L175.1,1515.0L175.2,1513.5L175.2,1512.0L175.2,1510.5L175.2,1509.0L175.2,1507.5L175.2,1506.0L175.3,1504.5L175.3,1503.0L175.3,1501.5L175.3,1500.0L175.3,1498.5L175.3,1497.0L175.3,1495.5L175.4,1494.0L175.4,1492.5L175.4,1491.0L175.4,1489.5L175.4,1488.0L175.4,1486.5L175.4,1485.0L175.5,1483.5L175.5,1482.0L175.5,1480.5L175.5,1479.0L175.5,1477.5L175.5,1476.0L175.6,1474.5L175.6,1473.0L175.6,1471.5L175.6,1470.0L175.6,1468.5L175.6,1467.0L175.6,1465.5L175.7,1464.0L175.7,1462.5L175.7,1461.0L175.7,1459.5L175.7,1458.0L175.7,1456.5L175.7,1455.0L175.7,1453.5L175.8,1452.0L175.8,1450.5L175.8,1449.0L175.8,1447.5L175.8,1446.0L175.8,1444.5L175.8,1443.0L175.8,1441.5L175.9,1440.0L175.9,1438.5L175.9,1437.0L175.9,1435.5L175.9,1434.0L175.9,1432.5L175.9,1431.0L175.9,1429.5L175.9,1428.0L176.0,1426.5L176.0,1425.0L176.0,1423.5L176.0,1422.0L176.0,1420.5L176.0,1419.0L176.0,1417.5L176.0,1416.0L176.0,1414.5L176.0,1413.0L176.0,1411.5L176.1,1410.0L176.1,1408.5L176.1,1407.0L176.1,1405.5L176.1,1404.0L176.1,1402.5L176.1,1401.0L176.1,1399.5L176.1,1398.0L176.1,1396.5L176.1,1395.0L176.1,1393.5L176.1,1392.0L176.1,1390.5L176.2,1389.0L176.2,1387.5L176.2,1386.0L176.2,1384.5L176.2,1383.0L176.2,1381.5L176.2,1380.0L176.2,1378.5L176.2,1377.0L176.2,1375.5L176.2,1374.0L176.2,1372.5L176.2,1371.0L176.2,1369.5L176.2,1368.0L176.2,1366.5L176.3,1365.0L176.3,1363.5L176.3,1362.0L176.3,1360.5L176.3,1359.0L176.3,1357.5L176.3,1356.0L176.3,1354.5L176.3,1353.0L176.3,1351.5L176.3,1350.0L176.3,1348.5L176.3,1347.0L176.3,1345.5L176.3,1344.0L176.3,1342.5L176.3,1341.0L176.4,1339.5L176.4,1338.0L176.4,1336.5L176.4,1335.0L176.4,1333.5L176.4,1332.0L176.4,1330.5L176.4,1329.0L176.4,1327.5L176.4,1326.0L176.4,1324.5L176.4,1323.0L176.4,1321.5L176.4,1320.0L176.5,1318.5L176.5,1317.0L176.5,1315.5L176.5,1314.0L176.5,1312.5L176.5,1311.0L176.5,1309.5L176.5,1308.0L176.5,1306.5L176.5,1305.0L176.5,1303.5L176.6,1302.0L176.6,1300.5L176.6,1299.0L176.6,1297.5L176.6,1296.0L176.6,1294.5L176.6,1293.0L176.6,1291.5L176.6,1290.0L176.7,1288.5L176.7,1287.0L176.7,1285.5L176.7,1284.0L176.7,1282.5L176.7,1281.0L176.7,1279.5L176.7,1278.0L176.8,1276.5L176.8,1275.0L176.8,1273.5L176.8,1272.0L176.8,1270.5L176.8,1269.0L176.8,1267.5L176.8,1266.0L176.9,1264.5L176.9,1263.0L176.9,1261.5L176.9,1260.0L176.9,1258.5L176.9,1257.0L176.9,1255.5L177.0,1254.0L177.0,1252.5L177.0,1251.0L177.0,1249.5L177.0,1248.0L177.0,1246.5L177.0,1245.0L177.1,1243.5L177.1,1242.0L177.1,1240.5L177.1,1239.0L177.1,1237.5L177.1,1236.0L177.2,1234.5L177.2,1233.0L177.2,1231.5L177.2,1230.0L177.2,1228.5L177.2,1227.0L177.3,1225.5L177.3,1224.0L177.3,1222.5L177.3,1221.0L177.3,1219.5L177.4,1218.0L177.4,1216.5L177.4,1215.0L177.4,1213.5L177.4,1212.0L177.5,1210.5L177.5,1209.0L177.5,1207.5L177.5,1206.0L177.5,1204.5L177.6,1203.0L177.6,1201.5L177.6,1200.0L177.6,1198.5L177.6,1197.0L177.7,1195.5L177.7,1194.0L177.7,1192.5L177.7,1191.0L177.7,1189.5L177.8,1188.0L177.8,1186.5L177.8,1185.0L177.8,1183.5L177.9,1182.0L177.9,1180.5L177.9,1179.0L177.9,1177.5L178.0,1176.0L178.0,1174.5L178.0,1173.0L178.0,1171.5L178.1,1170.0L178.1,1168.5L178.1,1167.0L178.2,1165.5L178.2,1164.0L178.2,1162.5L178.3,1161.0L178.3,1159.6L178.4,1158.1L178.4,1156.5L178.4,1155.0L178.5,1153.5L178.5,1152.0L178.6,1150.5L178.6,1149.0L178.7,1147.5L178.8,1146.0L178.8,1144.5L178.9,1143.0L179.0,1141.5L179.0,1140.0L179.1,1138.5L179.2,1137.0L179.3,1135.6L179.4,1134.1L179.6,1132.6L179.7,1131.1L179.9,1129.6L180.1,1128.1L180.4,1126.6L180.7,1125.1L181.0,1123.7L181.3,1122.2L181.7,1120.8L182.1,1119.3L182.6,1117.9L183.2,1116.5L183.9,1115.1L184.6,1113.8L185.4,1112.6L186.3,1111.4L187.3,1110.3L188.4,1109.2L189.5,1108.3L190.7,1107.3L192.0,1106.4L193.3,1105.6L194.6,1105.0L195.9,1104.4L197.3,1103.8L198.7,1103.2L200.1,1102.7L201.6,1102.3L203.1,1101.9L204.5,1101.5L206.0,1101.2L207.4,1100.9L208.9,1100.7L210.4,1100.4L211.8,1100.2L213.3,1100.0L214.8,1099.8L216.3,1099.6L217.8,1099.4L219.3,1099.2L220.8,1099.0L222.3,1098.9L223.8,1098.7L225.3,1098.6L226.8,1098.5L228.3,1098.4L229.8,1098.2L231.3,1098.1L232.8,1098.0L234.3,1097.9L235.8,1097.9L237.3,1097.8L238.8,1097.7L240.3,1097.6L241.7,1097.5L243.2,1097.4L244.7,1097.3L246.2,1097.3L247.7,1097.2L249.2,1097.1L250.7,1097.0L252.2,1097.0L253.7,1096.9L255.2,1096.8L256.7,1096.8L258.2,1096.7L259.7,1096.7L261.2,1096.6L262.7,1096.5L264.2,1096.5L265.7,1096.4L267.2,1096.4L268.7,1096.3L270.2,1096.3L271.7,1096.2L273.2,1096.2L274.7,1096.1L276.2,1096.1L277.7,1096.1L279.2,1096.0L280.0,1096.0L283.0,1096.0L286.0,1095.9L289.0,1095.8L292.0,1095.8L295.0,1095.7L298.0,1095.7L301.0,1095.6L304.0,1095.5L307.0,1095.5L310.0,1095.4L313.0,1095.3L316.0,1095.3L319.0,1095.2L322.0,1095.1L325.0,1095.1L328.0,1095.0L331.0,1094.9L334.0,1094.8L337.0,1094.8L340.0,1094.7L343.0,1094.6L346.0,1094.5L349.0,1094.4L352.0,1094.3L355.0,1094.2L358.0,1094.1L361.0,1094.1L364.0,1094.0L367.0,1093.9L370.0,1093.8L373.0,1093.7L376.0,1093.6L379.0,1093.4L382.0,1093.3L385.0,1093.2L388.0,1093.1L391.0,1093.0L394.0,1092.9L397.0,1092.8L400.0,1092.7L403.0,1092.5L406.0,1092.4L409.0,1092.3L412.0,1092.1L415.0,1092.0L418.0,1091.9L421.0,1091.7L424.0,1091.6L427.0,1091.5L430.0,1091.3L433.0,1091.2L436.0,1091.0L439.0,1090.9L442.0,1090.7L445.0,1090.6L448.0,1090.4L451.0,1090.3L454.0,1090.1L457.0,1089.9L460.0,1089.8L463.0,1089.6L466.0,1089.4L469.0,1089.2L472.0,1089.1L475.0,1088.9L478.0,1088.7L481.0,1088.5L484.0,1088.3L487.0,1088.1L490.0,1087.9L493.0,1087.7L496.0,1087.5L499.0,1087.3L502.0,1087.1L505.0,1086.9L508.0,1086.7L511.0,1086.5L514.0,1086.2L517.0,1086.0L520.0,1085.8L523.0,1085.6L526.0,1085.3L529.0,1085.1L532.0,1084.8L535.0,1084.6L538.0,1084.4L541.0,1084.1L544.0,1083.9L547.0,1083.6L550.0,1083.3L553.0,1083.1L556.0,1082.8L559.0,1082.5L562.0,1082.3L565.0,1082.0L568.0,1081.7L571.0,1081.4L574.0,1081.1L577.0,1080.9L580.0,1080.6L583.0,1080.3L586.0,1080.0L589.0,1079.7L592.0,1079.3L595.0,1079.0L598.0,1078.7L601.0,1078.4L604.0,1078.1L607.0,1077.7L610.0,1077.4L613.0,1077.1L616.0,1076.7L619.0,1076.4L622.0,1076.0L625.0,1075.7L628.0,1075.3L631.0,1075.0L634.0,1074.6L637.0,1074.3L640.0,1073.9L643.0,1073.5L646.0,1073.1L649.0,1072.7L652.0,1072.4L655.0,1072.0L658.0,1071.6L661.0,1071.2L664.0,1070.8L667.0,1070.4L670.0,1070.0L673.0,1069.5L676.0,1069.1L679.0,1068.7L682.0,1068.3L685.0,1067.8L688.0,1067.4L691.0,1067.0L694.0,1066.5L697.0,1066.1L700.0,1065.6L703.0,1065.1L706.0,1064.7L709.0,1064.2L712.0,1063.7L715.0,1063.3L718.0,1062.8L721.0,1062.3L724.0,1061.8L727.0,1061.3L730.0,1060.8L733.0,1060.3L736.0,1059.8L739.0,1059.3L742.0,1058.8L745.0,1058.3L748.0,1057.7L751.0,1057.2L754.0,1056.7L757.0,1056.1L760.0,1055.6L763.0,1055.1L766.0,1054.5L769.0,1053.9L772.0,1053.4L775.0,1052.8L778.0,1052.2L781.0,1051.7L784.0,1051.1L787.0,1050.5L790.0,1049.9L793.0,1049.3L796.0,1048.7L799.0,1048.1L802.0,1047.5L805.0,1046.9L808.0,1046.3L811.0,1045.6L814.0,1045.0L817.0,1044.4L820.0,1043.7L823.0,1043.1L826.0,1042.4L829.0,1041.8L832.0,1041.1L835.0,1040.5L838.0,1039.8L841.0,1039.1L844.0,1038.4L847.0,1037.8L850.0,1037.1L853.0,1036.4L856.0,1035.7L859.0,1035.0L862.0,1034.3L865.0,1033.5L868.0,1032.8L871.0,1032.1L874.0,1031.4L877.0,1030.6L880.0,1029.9L883.0,1029.1L886.0,1028.4L889.0,1027.6L892.0,1026.9L895.0,1026.1L898.0,1025.3L901.0,1024.6L904.0,1023.8L907.0,1023.0L910.0,1022.2L913.0,1021.4L916.0,1020.6L919.0,1019.8L922.0,1018.9L925.0,1018.1L928.0,1017.3L931.0,1016.5L934.0,1015.6L937.0,1014.8L940.0,1013.9L943.0,1013.1L946.0,1012.2L949.0,1011.3L952.0,1010.5L955.0,1009.6L958.0,1008.7L961.0,1007.8L964.0,1006.9L967.0,1006.0L970.0,1005.1L973.0,1004.2L976.0,1003.3L979.0,1002.4L982.0,1001.4L985.0,1000.5L988.0,999.6L991.0,998.6L994.0,997.7L997.0,996.7L1000.0,995.7L1003.0,994.8L1006.0,993.8L1009.0,992.8L1012.0,991.8L1015.0,990.8L1018.0,989.8L1021.0,988.8L1024.0,987.8L1027.0,986.8L1030.0,985.8L1033.0,984.7L1036.0,983.7L1039.0,982.6L1042.0,981.6L1045.0,980.5L1048.0,979.5L1051.0,978.4L1054.0,977.3L1057.0,976.3L1060.0,975.2L1063.0,974.1L1066.0,973.0L1069.0,971.9L1072.0,970.8L1075.0,969.6L1078.0,968.5L1081.0,967.4L1084.0,966.2L1087.0,965.1L1090.0,964.0L1093.0,962.8L1096.0,961.6L1099.0,960.5L1102.0,959.3L1105.0,958.1L1108.0,956.9L1111.0,955.7L1114.0,954.5L1117.0,953.3L1120.0,952.1L1123.0,950.9L1126.0,949.7L1129.0,948.4L1132.0,947.2L1135.0,945.9L1138.0,944.7L1141.0,943.4L1144.0,942.2L1147.0,940.9L1150.0,939.6L1153.0,938.3L1156.0,937.0L1159.0,935.7L1162.0,934.4L1165.0,933.1L1168.0,931.8L1171.0,930.5L1174.0,929.1L1177.0,927.8L1180.0,926.4L1183.0,925.1L1186.0,923.7L1189.0,922.4L1192.0,921.0L1195.0,919.6L1198.0,918.2L1201.0,916.9L1204.0,915.5L1207.0,914.1L1210.0,912.7L1213.0,911.2L1216.0,909.8L1219.0,908.4L1222.0,907.0L1225.0,905.5L1228.0,904.1L1231.0,902.7L1234.0,901.2L1237.0,899.8L1240.0,898.3L1243.0,896.8L1246.0,895.3L1249.0,893.9L1252.0,892.4L1255.0,890.9L1258.0,889.4L1261.0,887.9L1264.0,886.4L1267.0,884.9L1270.0,883.4L1273.0,881.8L1276.0,880.3L1279.0,878.8L1282.0,877.3L1285.0,875.7L1288.0,874.2L1291.0,872.6L1294.0,871.1L1297.0,869.5L1300.0,867.9L1303.0,866.4L1306.0,864.8L1309.0,863.2L1312.0,861.6L1315.0,860.0L1318.0,858.4L1321.0,856.8L1324.0,855.2L1327.0,853.6L1330.0,852.0L1333.0,850.4L1336.0,848.8L1339.0,847.1L1342.0,845.5L1345.0,843.9L1348.0,842.2L1351.0,840.6L1354.0,838.9L1357.0,837.3L1360.0,835.6L1363.0,833.9L1366.0,832.3L1369.0,830.6L1372.0,828.9L1375.0,827.3L1378.0,825.6L1381.0,823.9L1384.0,822.2L1387.0,820.5L1390.0,818.8L1393.0,817.1L1396.0,815.4L1399.0,813.7L1402.0,812.0L1405.0,810.3L1408.0,808.5L1411.0,806.8L1414.0,805.1L1417.0,803.3L1420.0,801.6L1423.0,799.9L1426.0,798.1L1429.0,796.4L1432.0,794.6L1435.0,792.9L1438.0,791.1L1441.0,789.3L1444.0,787.6L1447.0,785.8L1450.0,784.0L1453.0,782.2L1456.0,780.4L1459.0,778.6L1462.0,776.8L1465.0,775.0L1468.0,773.2L1471.0,771.4L1474.0,769.6L1477.0,767.8L1480.0,766.0L1483.0,764.2L1486.0,762.3L1489.0,760.5L1492.0,758.7L1495.0,756.8L1498.0,755.0L1501.0,753.1L1504.0,751.3L1507.0,749.4L1510.0,747.5L1513.0,745.7L1516.0,743.8L1519.0,741.9L1522.0,740.0L1525.0,738.1L1528.0,736.3L1531.0,734.4L1534.0,732.5L1537.0,730.6L1540.0,728.6L1543.0,726.7L1546.0,724.8L1549.0,722.9L1552.0,721.0L1555.0,719.0L1558.0,717.1L1561.0,715.1L1564.0,713.2L1567.0,711.3L1570.0,709.3L1573.0,707.3L1576.0,705.4L1579.0,703.4L1582.0,701.5L1585.0,699.5L1588.0,697.5L1591.0,695.5L1594.0,693.5L1597.0,691.6L1600.0,689.6L1603.0,687.6L1606.0,685.6L1609.0,683.6L1612.0,681.6L1615.0,679.6L1618.0,677.6L1621.0,675.5L1624.0,673.5L1627.0,671.5L1630.0,669.5L1633.0,667.5L1636.0,665.4L1639.0,663.4L1642.0,661.4L1645.0,659.3L1648.0,657.3L1651.0,655.3L1654.0,653.2L1657.0,651.2L1660.0,649.1L1663.0,647.1L1666.0,645.0L1669.0,642.9L1672.0,640.9L1675.0,638.8L1678.0,636.8L1681.0,634.7L1684.0,632.6L1687.0,630.6L1690.0,628.5L1693.0,626.4L1696.0,624.3L1699.0,622.3L1702.0,620.2L1705.0,618.1L1708.0,616.0L1711.0,613.9L1714.0,611.9L1717.0,609.8L1720.0,607.7L1723.0,605.6L1726.0,603.5L1729.0,601.4L1732.0,599.3L1735.0,597.2L1738.0,595.1L1741.0,593.0L1744.0,590.9L1747.0,588.8L1750.0,586.7L1753.0,584.6L1756.0,582.5L1759.0,580.4L1762.0,578.3L1765.0,576.2L1768.0,574.1L1771.0,572.0L1774.0,569.9L1777.0,567.8L1780.0,565.7L1783.0,563.6L1786.0,561.5L1789.0,559.4L1792.0,557.3L1795.0,555.2L1798.0,553.0L1801.0,550.9L1804.0,548.8L1807.0,546.7L1810.0,544.6L1813.0,542.5L1816.0,540.4L1819.0,538.3L1822.0,536.2L1825.0,534.1L1828.0,532.0L1831.0,529.8L1834.0,527.7L1837.0,525.6L1840.0,523.5L1843.0,521.4L1846.0,519.3L1849.0,517.2L1852.0,515.1L1855.0,513.0L1858.0,510.8L1861.0,508.7L1864.0,506.6L1867.0,504.5L1870.0,502.4L1873.0,500.3L1876.0,498.2L1879.0,496.1L1882.0,493.9L1885.0,491.8L1888.0,489.7L1891.0,487.6L1894.0,485.5L1897.0,483.4L1900.0,481.3L1903.0,479.1L1906.0,477.0L1909.0,474.9L1912.0,472.8L1915.0,470.7L1918.0,468.6L1921.0,466.5L1924.0,464.3L1927.0,462.2L1930.0,460.1L1933.0,458.0L1936.0,455.9L1939.0,453.8L1942.0,451.7L1945.0,449.5L1948.0,447.4L1951.0,445.3L1954.0,443.2L1957.0,441.1L1960.0,439.0L1963.0,436.8L1966.0,434.7L1969.0,432.6L1972.0,430.5L1975.0,428.4L1978.0,426.3L1981.0,424.2L1984.0,422.0L1987.0,419.9L1990.0,417.8L1993.0,415.7L1996.0,413.6L1999.0,411.5L2002.0,409.4L2005.0,407.2L2008.0,405.1L2011.0,403.0L2014.0,400.9L2017.0,398.8L2020.0,396.7L2023.0,394.6L2026.0,392.4L2029.0,390.3L2032.0,388.2L2035.0,386.1L2038.0,384.0L2041.0,381.9L2044.0,379.8L2047.0,377.6L2050.0,375.5L2053.0,373.4L2056.0,371.3L2059.0,369.2L2062.0,367.1L2065.0,365.0L2068.0,362.9L2071.0,360.8L2074.0,358.7L2077.0,356.6L2080.0,354.5L2083.0,352.4L2086.0,350.3L2089.0,348.2L2092.0,346.1L2095.0,344.0L2098.0,341.9L2101.0,339.8L2104.0,337.7L2107.0,335.6L2110.0,333.5L2113.0,331.4L2116.0,329.4L2119.0,327.3L2122.0,325.2L2125.0,323.2L2128.0,321.1L2131.0,319.0L2134.0,317.0L2137.0,314.9L2140.0,312.8L2143.0,310.8L2146.0,308.7L2149.0,306.7L2152.0,304.7L2155.0,302.6L2158.0,300.6L2161.0,298.6L2164.0,296.5L2167.0,294.5L2170.0,292.5L2173.0,290.5L2176.0,288.5L2179.0,286.5L2182.0,284.5L2185.0,282.5L2188.0,280.5L2191.0,278.5L2194.0,276.5L2197.0,274.5L2200.0,272.5L2203.0,270.5L2206.0,268.6L2209.0,266.6L2212.0,264.6L2215.0,262.7L2218.0,260.7L2221.0,258.7L2224.0,256.7L2227.0,254.8L2230.0,252.8L2233.0,250.8L2236.0,248.8L2239.0,246.9L2242.0,244.9L2245.0,242.9L2248.0,240.9L2251.0,238.9L2254.0,236.9L2257.0,235.0L2260.0,233.0L2263.0,230.9L2266.0,228.9L2269.0,226.9L2272.0,224.9L2275.0,222.9L2278.0,220.8L2281.0,218.8L2284.0,216.8L2287.0,214.7L2290.0,212.6L2293.0,210.6L2296.0,208.5L2299.0,206.4L2302.0,204.3L2305.0,202.2L2308.0,200.1L2311.0,197.9L2314.0,195.8L2317.0,193.6L2320.0,191.5L2322.3,189.8" stroke="#0072BD"/>
</g>
<rect x="206.1" y="70.2" width="813.9" height="885.5" fill="#fff"/>
<g fill="#262626" shape-rendering="crispEdges"><rect x="206.1" y="70.2" width="813.9" height="3.7"/><rect x="206.1" y="952.0" width="813.9" height="3.7"/><rect x="206.1" y="70.2" width="4.9" height="885.5"/><rect x="1015.2" y="70.2" width="4.8" height="885.5"/></g>
<rect x="228" y="133" width="198" height="4" fill="#0072BD" shape-rendering="crispEdges"/>
<text transform="translate(0,145.50) scale(1,1.03)" font-size="59.1" fill="#000"><tspan x="440.40" y="0.00" font-size="59.10">a</tspan><tspan class="n" x="470.75" y="0.00" font-size="57.38" textLength="69.23" lengthAdjust="spacingAndGlyphs">≠</tspan><tspan x="535.41" y="0.00" font-size="59.10">0,E</tspan><tspan x="626.89" y="28.98" font-size="47.28">a</tspan><tspan x="653.19" y="0.00" font-size="59.10">(0)</tspan><tspan x="726.01" y="0.00" font-size="41.77" textLength="33.33" lengthAdjust="spacingAndGlyphs" stroke="#000" stroke-width="1.12">=</tspan><tspan x="759.93" y="0.00" font-size="59.10">0,I</tspan><tspan x="828.42" y="28.98" font-size="47.28">a</tspan><tspan x="854.71" y="0.00" font-size="59.10">(0)</tspan><tspan x="927.53" y="0.00" font-size="41.77" textLength="33.33" lengthAdjust="spacingAndGlyphs" stroke="#000" stroke-width="1.12">=</tspan><tspan x="961.45" y="0.00" font-size="59.10">0</tspan></text>
<rect x="228" y="241" width="198" height="4" fill="#D95319" shape-rendering="crispEdges"/>
<text transform="translate(0,253.55) scale(1,1.03)" font-size="59.1" fill="#000"><tspan x="440.40" y="0.00" font-size="59.10">a</tspan><tspan class="n" x="470.75" y="0.00" font-size="57.38" textLength="69.23" lengthAdjust="spacingAndGlyphs">≠</tspan><tspan x="535.41" y="0.00" font-size="59.10">0,E</tspan><tspan x="626.89" y="28.98" font-size="47.28">a</tspan><tspan x="653.19" y="0.00" font-size="59.10">(0)</tspan><tspan x="726.01" y="0.00" font-size="41.77" textLength="33.33" lengthAdjust="spacingAndGlyphs" stroke="#000" stroke-width="1.12">=</tspan><tspan class="d" x="757.61" y="2.99" font-size="58.69" textLength="38.40" lengthAdjust="spacingAndGlyphs">1</tspan><tspan x="792.80" y="0.00" font-size="59.10">,I</tspan><tspan x="828.42" y="28.98" font-size="47.28">a</tspan><tspan x="854.71" y="0.00" font-size="59.10">(0)</tspan><tspan x="927.53" y="0.00" font-size="41.77" textLength="33.33" lengthAdjust="spacingAndGlyphs" stroke="#000" stroke-width="1.12">=</tspan><tspan x="961.45" y="0.00" font-size="59.10">0</tspan></text>
<rect x="228" y="349" width="198" height="4" fill="#EDB120" shape-rendering="crispEdges"/>
<text transform="translate(0,361.60) scale(1,1.03)" font-size="59.1" fill="#000"><tspan x="440.40" y="0.00" font-size="59.10">a</tspan><tspan class="n" x="470.75" y="0.00" font-size="57.38" textLength="69.23" lengthAdjust="spacingAndGlyphs">≠</tspan><tspan x="535.41" y="0.00" font-size="59.10">0,E</tspan><tspan x="626.89" y="28.98" font-size="47.28">a</tspan><tspan x="653.19" y="0.00" font-size="59.10">(0)</tspan><tspan x="726.01" y="0.00" font-size="41.77" textLength="33.33" lengthAdjust="spacingAndGlyphs" stroke="#000" stroke-width="1.12">=</tspan><tspan x="759.93" y="0.00" font-size="59.10">0,I</tspan><tspan x="828.42" y="28.98" font-size="47.28">a</tspan><tspan x="854.71" y="0.00" font-size="59.10">(0)</tspan><tspan x="927.53" y="0.00" font-size="41.77" textLength="33.33" lengthAdjust="spacingAndGlyphs" stroke="#000" stroke-width="1.12">=</tspan><tspan class="d" x="959.13" y="2.99" font-size="58.69" textLength="38.40" lengthAdjust="spacingAndGlyphs">1</tspan></text>
<rect x="228" y="457" width="198" height="4" fill="#7E2F8E" shape-rendering="crispEdges"/>
<text transform="translate(0,469.65) scale(1,1.03)" font-size="59.1" fill="#000"><tspan x="440.40" y="0.00" font-size="59.10">a</tspan><tspan class="n" x="470.75" y="0.00" font-size="57.38" textLength="69.23" lengthAdjust="spacingAndGlyphs">≠</tspan><tspan x="535.41" y="0.00" font-size="59.10">0,E</tspan><tspan x="626.89" y="28.98" font-size="47.28">a</tspan><tspan x="653.19" y="0.00" font-size="59.10">(0)</tspan><tspan x="726.01" y="0.00" font-size="41.77" textLength="33.33" lengthAdjust="spacingAndGlyphs" stroke="#000" stroke-width="1.12">=</tspan><tspan class="d" x="757.61" y="2.99" font-size="58.69" textLength="38.40" lengthAdjust="spacingAndGlyphs">1</tspan><tspan x="792.80" y="0.00" font-size="59.10">,I</tspan><tspan x="828.42" y="28.98" font-size="47.28">a</tspan><tspan x="854.71" y="0.00" font-size="59.10">(0)</tspan><tspan x="927.53" y="0.00" font-size="41.77" textLength="33.33" lengthAdjust="spacingAndGlyphs" stroke="#000" stroke-width="1.12">=</tspan><tspan class="d" x="959.13" y="2.99" font-size="58.69" textLength="38.40" lengthAdjust="spacingAndGlyphs">1</tspan></text>
<rect x="228" y="565" width="198" height="4" fill="#77AC30" shape-rendering="crispEdges"/>
<text transform="translate(0,577.70) scale(1,1.03)" font-size="59.1" fill="#000"><tspan x="440.40" y="0.00" font-size="59.10">a</tspan><tspan x="473.86" y="0.00" font-size="41.77" textLength="33.33" lengthAdjust="spacingAndGlyphs" stroke="#000" stroke-width="1.12">=</tspan><tspan x="507.78" y="0.00" font-size="59.10">0,E</tspan><tspan x="599.27" y="28.98" font-size="47.28">a</tspan><tspan x="625.56" y="0.00" font-size="59.10">(0)</tspan><tspan x="698.38" y="0.00" font-size="41.77" textLength="33.33" lengthAdjust="spacingAndGlyphs" stroke="#000" stroke-width="1.12">=</tspan><tspan x="732.31" y="0.00" font-size="59.10">0,I</tspan><tspan x="800.79" y="28.98" font-size="47.28">a</tspan><tspan x="827.09" y="0.00" font-size="59.10">(0)</tspan><tspan x="899.91" y="0.00" font-size="41.77" textLength="33.33" lengthAdjust="spacingAndGlyphs" stroke="#000" stroke-width="1.12">=</tspan><tspan x="933.83" y="0.00" font-size="59.10">0</tspan></text>
<rect x="228" y="673" width="198" height="4" fill="#4DBEEE" shape-rendering="crispEdges"/>
<text transform="translate(0,685.75) scale(1,1.03)" font-size="59.1" fill="#000"><tspan x="440.40" y="0.00" font-size="59.10">a</tspan><tspan x="473.86" y="0.00" font-size="41.77" textLength="33.33" lengthAdjust="spacingAndGlyphs" stroke="#000" stroke-width="1.12">=</tspan><tspan x="507.78" y="0.00" font-size="59.10">0,E</tspan><tspan x="599.27" y="28.98" font-size="47.28">a</tspan><tspan x="625.56" y="0.00" font-size="59.10">(0)</tspan><tspan x="698.38" y="0.00" font-size="41.77" textLength="33.33" lengthAdjust="spacingAndGlyphs" stroke="#000" stroke-width="1.12">=</tspan><tspan class="d" x="729.98" y="2.99" font-size="58.69" textLength="38.40" lengthAdjust="spacingAndGlyphs">1</tspan><tspan x="765.17" y="0.00" font-size="59.10">,I</tspan><tspan x="800.79" y="28.98" font-size="47.28">a</tspan><tspan x="827.09" y="0.00" font-size="59.10">(0)</tspan><tspan x="899.91" y="0.00" font-size="41.77" textLength="33.33" lengthAdjust="spacingAndGlyphs" stroke="#000" stroke-width="1.12">=</tspan><tspan x="933.83" y="0.00" font-size="59.10">0</tspan></text>
<rect x="228" y="781" width="198" height="4" fill="#A2142F" shape-rendering="crispEdges"/>
<text transform="translate(0,793.80) scale(1,1.03)" font-size="59.1" fill="#000"><tspan x="440.40" y="0.00" font-size="59.10">a</tspan><tspan x="473.86" y="0.00" font-size="41.77" textLength="33.33" lengthAdjust="spacingAndGlyphs" stroke="#000" stroke-width="1.12">=</tspan><tspan x="507.78" y="0.00" font-size="59.10">0,E</tspan><tspan x="599.27" y="28.98" font-size="47.28">a</tspan><tspan x="625.56" y="0.00" font-size="59.10">(0)</tspan><tspan x="698.38" y="0.00" font-size="41.77" textLength="33.33" lengthAdjust="spacingAndGlyphs" stroke="#000" stroke-width="1.12">=</tspan><tspan x="732.31" y="0.00" font-size="59.10">0,I</tspan><tspan x="800.79" y="28.98" font-size="47.28">a</tspan><tspan x="827.09" y="0.00" font-size="59.10">(0)</tspan><tspan x="899.91" y="0.00" font-size="41.77" textLength="33.33" lengthAdjust="spacingAndGlyphs" stroke="#000" stroke-width="1.12">=</tspan><tspan class="d" x="931.51" y="2.99" font-size="58.69" textLength="38.40" lengthAdjust="spacingAndGlyphs">1</tspan></text>
<rect x="228" y="889" width="198" height="5" fill="#0072BD" shape-rendering="crispEdges"/>
<text transform="translate(0,901.85) scale(1,1.03)" font-size="59.1" fill="#000"><tspan x="440.40" y="0.00" font-size="59.10">a</tspan><tspan x="473.86" y="0.00" font-size="41.77" textLength="33.33" lengthAdjust="spacingAndGlyphs" stroke="#000" stroke-width="1.12">=</tspan><tspan x="507.78" y="0.00" font-size="59.10">0,E</tspan><tspan x="599.27" y="28.98" font-size="47.28">a</tspan><tspan x="625.56" y="0.00" font-size="59.10">(0)</tspan><tspan x="698.38" y="0.00" font-size="41.77" textLength="33.33" lengthAdjust="spacingAndGlyphs" stroke="#000" stroke-width="1.12">=</tspan><tspan class="d" x="729.98" y="2.99" font-size="58.69" textLength="38.40" lengthAdjust="spacingAndGlyphs">1</tspan><tspan x="765.17" y="0.00" font-size="59.10">,I</tspan><tspan x="800.79" y="28.98" font-size="47.28">a</tspan><tspan x="827.09" y="0.00" font-size="59.10">(0)</tspan><tspan x="899.91" y="0.00" font-size="41.77" textLength="33.33" lengthAdjust="spacingAndGlyphs" stroke="#000" stroke-width="1.12">=</tspan><tspan class="d" x="931.51" y="2.99" font-size="58.69" textLength="38.40" lengthAdjust="spacingAndGlyphs">1</tspan></text>
<text transform="translate(0,703.20) scale(1,1.03)" font-size="65.7" fill="#000"><tspan x="1130.21" y="0.00" font-size="65.70">a</tspan><tspan x="1167.41" y="0.00" font-size="46.44" textLength="37.05" lengthAdjust="spacingAndGlyphs" stroke="#000" stroke-width="1.25">=</tspan><tspan x="1205.12" y="0.00" font-size="65.70">0,E</tspan><tspan x="1306.82" y="32.21" font-size="52.56">a</tspan><tspan x="1336.05" y="0.00" font-size="65.70">(0)</tspan><tspan x="1417.00" y="0.00" font-size="46.44" textLength="37.05" lengthAdjust="spacingAndGlyphs" stroke="#000" stroke-width="1.25">=</tspan><tspan class="d" x="1452.13" y="3.33" font-size="65.24" textLength="42.69" lengthAdjust="spacingAndGlyphs">1</tspan><tspan x="1491.25" y="0.00" font-size="65.70">,I</tspan><tspan x="1530.85" y="32.21" font-size="52.56">a</tspan><tspan x="1560.08" y="0.00" font-size="65.70">(0)</tspan><tspan x="1641.03" y="0.00" font-size="46.44" textLength="37.05" lengthAdjust="spacingAndGlyphs" stroke="#000" stroke-width="1.25">=</tspan><tspan class="d" x="1676.16" y="3.33" font-size="65.24" textLength="42.69" lengthAdjust="spacingAndGlyphs">1</tspan></text>
<text transform="translate(0,892.00) scale(1,1.03)" font-size="65.7" fill="#000"><tspan x="1516.21" y="0.00" font-size="65.70">a</tspan><tspan class="n" x="1549.94" y="0.00" font-size="63.79" textLength="76.96" lengthAdjust="spacingAndGlyphs">≠</tspan><tspan x="1621.83" y="0.00" font-size="65.70">0,I</tspan><tspan x="1697.96" y="32.21" font-size="52.56">a</tspan><tspan x="1727.19" y="0.00" font-size="65.70">(0)</tspan><tspan x="1808.14" y="0.00" font-size="46.44" textLength="37.05" lengthAdjust="spacingAndGlyphs" stroke="#000" stroke-width="1.25">=</tspan><tspan class="d" x="1843.27" y="3.33" font-size="65.24" textLength="42.69" lengthAdjust="spacingAndGlyphs">1</tspan></text>
<text transform="translate(0,1287.70) scale(1,1.03)" font-size="65.7" fill="#000"><tspan x="1652.91" y="0.00" font-size="65.70">a</tspan><tspan x="1690.11" y="0.00" font-size="46.44" textLength="37.05" lengthAdjust="spacingAndGlyphs" stroke="#000" stroke-width="1.25">=</tspan><tspan x="1727.82" y="0.00" font-size="65.70">0,E</tspan><tspan x="1829.52" y="32.21" font-size="52.56">a</tspan><tspan x="1858.75" y="0.00" font-size="65.70">(0)</tspan><tspan x="1939.70" y="0.00" font-size="46.44" textLength="37.05" lengthAdjust="spacingAndGlyphs" stroke="#000" stroke-width="1.25">=</tspan><tspan x="1977.41" y="0.00" font-size="65.70">0,I</tspan><tspan x="2053.55" y="32.21" font-size="52.56">a</tspan><tspan x="2082.78" y="0.00" font-size="65.70">(0)</tspan><tspan x="2163.73" y="0.00" font-size="46.44" textLength="37.05" lengthAdjust="spacingAndGlyphs" stroke="#000" stroke-width="1.25">=</tspan><tspan class="d" x="2198.86" y="3.33" font-size="65.24" textLength="42.69" lengthAdjust="spacingAndGlyphs">1</tspan></text>
<text transform="translate(0,1337.40) scale(1,1.03)" font-size="65.7" fill="#000"><tspan x="535.51" y="0.00" font-size="65.70">a</tspan><tspan x="572.71" y="0.00" font-size="46.44" textLength="37.05" lengthAdjust="spacingAndGlyphs" stroke="#000" stroke-width="1.25">=</tspan><tspan x="610.42" y="0.00" font-size="65.70">0,E</tspan><tspan x="712.12" y="32.21" font-size="52.56">a</tspan><tspan x="741.35" y="0.00" font-size="65.70">(0)</tspan><tspan x="822.30" y="0.00" font-size="46.44" textLength="37.05" lengthAdjust="spacingAndGlyphs" stroke="#000" stroke-width="1.25">=</tspan><tspan class="d" x="857.43" y="3.33" font-size="65.24" textLength="42.69" lengthAdjust="spacingAndGlyphs">1</tspan><tspan x="896.55" y="0.00" font-size="65.70">,I</tspan><tspan x="936.15" y="32.21" font-size="52.56">a</tspan><tspan x="965.38" y="0.00" font-size="65.70">(0)</tspan><tspan x="1046.33" y="0.00" font-size="46.44" textLength="37.05" lengthAdjust="spacingAndGlyphs" stroke="#000" stroke-width="1.25">=</tspan><tspan x="1084.04" y="0.00" font-size="65.70">0</tspan></text>
<text transform="translate(0,1598.50) scale(1,1.03)" font-size="65.7" fill="#000"><tspan x="1473.41" y="0.00" font-size="65.70">a</tspan><tspan class="n" x="1507.14" y="0.00" font-size="63.79" textLength="76.96" lengthAdjust="spacingAndGlyphs">≠</tspan><tspan x="1579.03" y="0.00" font-size="65.70">0,I</tspan><tspan x="1655.16" y="32.21" font-size="52.56">a</tspan><tspan x="1684.39" y="0.00" font-size="65.70">(0)</tspan><tspan x="1765.34" y="0.00" font-size="46.44" textLength="37.05" lengthAdjust="spacingAndGlyphs" stroke="#000" stroke-width="1.25">=</tspan><tspan x="1803.06" y="0.00" font-size="65.70">0</tspan></text>
</svg></body></html>
